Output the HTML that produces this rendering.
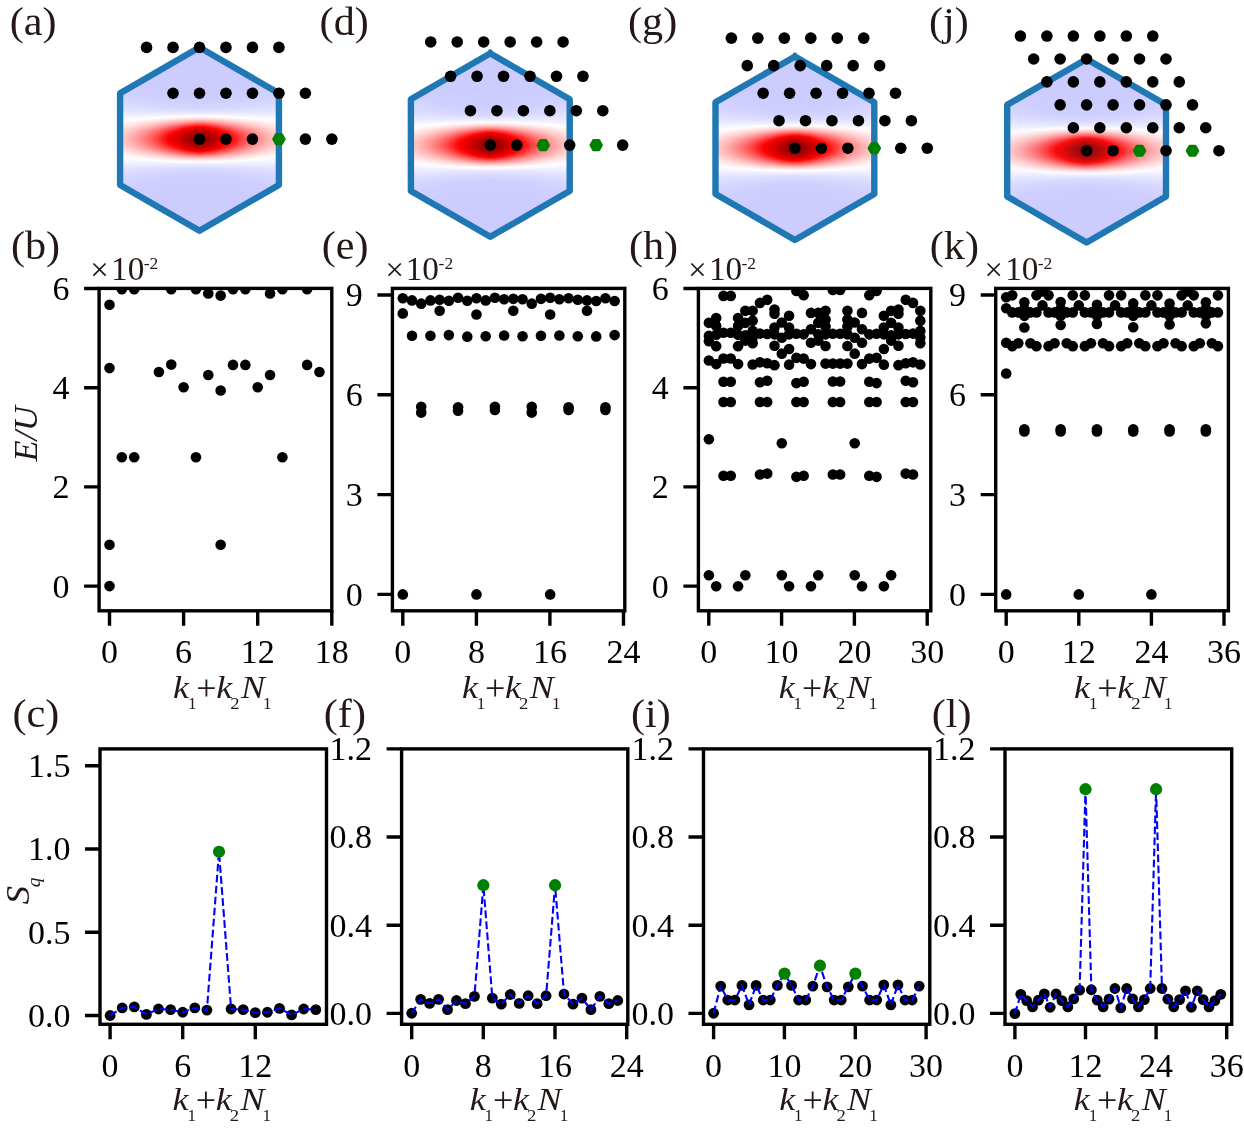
<!DOCTYPE html>
<html><head><meta charset="utf-8"><title>figure</title>
<style>html,body{margin:0;padding:0;background:#fff}svg{display:block;will-change:transform}text{font-family:"Liberation Serif", serif}</style>
</head><body>
<svg width="1244" height="1132" viewBox="0 0 1244 1132">
<defs><linearGradient id="g0" gradientUnits="userSpaceOnUse" x1="0" y1="0" x2="82" y2="0" spreadMethod="reflect"><stop offset="0" stop-color="#830000"/><stop offset="0.02" stop-color="#850000"/><stop offset="0.05" stop-color="#8b0000"/><stop offset="0.07" stop-color="#920000"/><stop offset="0.11" stop-color="#9f0000"/><stop offset="0.15" stop-color="#ad0000"/><stop offset="0.2" stop-color="#c00000"/><stop offset="0.24" stop-color="#d10000"/><stop offset="0.3" stop-color="#e60000"/><stop offset="0.37" stop-color="#f80000"/><stop offset="0.44" stop-color="#ff1b1b"/><stop offset="0.51" stop-color="#ff3f3f"/><stop offset="0.61" stop-color="#ff6767"/><stop offset="0.71" stop-color="#ff8a8a"/><stop offset="0.8" stop-color="#ffa7a7"/><stop offset="0.9" stop-color="#ffc0c0"/><stop offset="1" stop-color="#ffd4d4"/></linearGradient>
<linearGradient id="g1" gradientUnits="userSpaceOnUse" x1="0" y1="0" x2="82" y2="0" spreadMethod="reflect"><stop offset="0" stop-color="#850000"/><stop offset="0.02" stop-color="#870000"/><stop offset="0.05" stop-color="#8c0000"/><stop offset="0.07" stop-color="#940000"/><stop offset="0.11" stop-color="#a10000"/><stop offset="0.15" stop-color="#af0000"/><stop offset="0.2" stop-color="#c10000"/><stop offset="0.24" stop-color="#d30000"/><stop offset="0.3" stop-color="#e70000"/><stop offset="0.37" stop-color="#f90000"/><stop offset="0.44" stop-color="#ff1d1d"/><stop offset="0.51" stop-color="#ff4040"/><stop offset="0.61" stop-color="#ff6969"/><stop offset="0.71" stop-color="#ff8b8b"/><stop offset="0.8" stop-color="#ffa8a8"/><stop offset="0.9" stop-color="#ffc0c0"/><stop offset="1" stop-color="#ffd5d5"/></linearGradient>
<linearGradient id="g2" gradientUnits="userSpaceOnUse" x1="0" y1="0" x2="82" y2="0" spreadMethod="reflect"><stop offset="0" stop-color="#880000"/><stop offset="0.02" stop-color="#8a0000"/><stop offset="0.05" stop-color="#8f0000"/><stop offset="0.07" stop-color="#960000"/><stop offset="0.11" stop-color="#a30000"/><stop offset="0.15" stop-color="#b10000"/><stop offset="0.2" stop-color="#c30000"/><stop offset="0.24" stop-color="#d50000"/><stop offset="0.3" stop-color="#e90000"/><stop offset="0.37" stop-color="#fb0000"/><stop offset="0.44" stop-color="#ff2020"/><stop offset="0.51" stop-color="#ff4343"/><stop offset="0.61" stop-color="#ff6b6b"/><stop offset="0.71" stop-color="#ff8d8d"/><stop offset="0.8" stop-color="#ffa9a9"/><stop offset="0.9" stop-color="#ffc1c1"/><stop offset="1" stop-color="#ffd6d6"/></linearGradient>
<linearGradient id="g3" gradientUnits="userSpaceOnUse" x1="0" y1="0" x2="82" y2="0" spreadMethod="reflect"><stop offset="0" stop-color="#8d0000"/><stop offset="0.02" stop-color="#8f0000"/><stop offset="0.05" stop-color="#940000"/><stop offset="0.07" stop-color="#9b0000"/><stop offset="0.11" stop-color="#a80000"/><stop offset="0.15" stop-color="#b50000"/><stop offset="0.2" stop-color="#c70000"/><stop offset="0.24" stop-color="#d80000"/><stop offset="0.3" stop-color="#ec0000"/><stop offset="0.37" stop-color="#fe0000"/><stop offset="0.44" stop-color="#ff2525"/><stop offset="0.51" stop-color="#ff4747"/><stop offset="0.61" stop-color="#ff6f6f"/><stop offset="0.71" stop-color="#ff9090"/><stop offset="0.8" stop-color="#ffacac"/><stop offset="0.9" stop-color="#ffc3c3"/><stop offset="1" stop-color="#ffd7d7"/></linearGradient>
<linearGradient id="g4" gradientUnits="userSpaceOnUse" x1="0" y1="0" x2="82" y2="0" spreadMethod="reflect"><stop offset="0" stop-color="#930000"/><stop offset="0.02" stop-color="#950000"/><stop offset="0.05" stop-color="#9a0000"/><stop offset="0.07" stop-color="#a10000"/><stop offset="0.11" stop-color="#ad0000"/><stop offset="0.15" stop-color="#ba0000"/><stop offset="0.2" stop-color="#cc0000"/><stop offset="0.24" stop-color="#dc0000"/><stop offset="0.3" stop-color="#f00000"/><stop offset="0.37" stop-color="#ff0505"/><stop offset="0.44" stop-color="#ff2b2b"/><stop offset="0.51" stop-color="#ff4d4d"/><stop offset="0.61" stop-color="#ff7373"/><stop offset="0.71" stop-color="#ff9393"/><stop offset="0.8" stop-color="#ffaeae"/><stop offset="0.9" stop-color="#ffc5c5"/><stop offset="1" stop-color="#ffd8d8"/></linearGradient>
<linearGradient id="g5" gradientUnits="userSpaceOnUse" x1="0" y1="0" x2="82" y2="0" spreadMethod="reflect"><stop offset="0" stop-color="#9b0000"/><stop offset="0.02" stop-color="#9d0000"/><stop offset="0.05" stop-color="#a10000"/><stop offset="0.07" stop-color="#a80000"/><stop offset="0.11" stop-color="#b40000"/><stop offset="0.15" stop-color="#c10000"/><stop offset="0.2" stop-color="#d20000"/><stop offset="0.24" stop-color="#e20000"/><stop offset="0.3" stop-color="#f50000"/><stop offset="0.37" stop-color="#ff0e0e"/><stop offset="0.44" stop-color="#ff3333"/><stop offset="0.51" stop-color="#ff5353"/><stop offset="0.61" stop-color="#ff7979"/><stop offset="0.71" stop-color="#ff9898"/><stop offset="0.8" stop-color="#ffb2b2"/><stop offset="0.9" stop-color="#ffc8c8"/><stop offset="1" stop-color="#ffdada"/></linearGradient>
<linearGradient id="g6" gradientUnits="userSpaceOnUse" x1="0" y1="0" x2="82" y2="0" spreadMethod="reflect"><stop offset="0" stop-color="#a50000"/><stop offset="0.02" stop-color="#a60000"/><stop offset="0.05" stop-color="#ab0000"/><stop offset="0.07" stop-color="#b10000"/><stop offset="0.11" stop-color="#bd0000"/><stop offset="0.15" stop-color="#c90000"/><stop offset="0.2" stop-color="#d90000"/><stop offset="0.24" stop-color="#e80000"/><stop offset="0.3" stop-color="#fb0000"/><stop offset="0.37" stop-color="#ff1818"/><stop offset="0.44" stop-color="#ff3c3c"/><stop offset="0.51" stop-color="#ff5b5b"/><stop offset="0.61" stop-color="#ff7f7f"/><stop offset="0.71" stop-color="#ff9d9d"/><stop offset="0.8" stop-color="#ffb6b6"/><stop offset="0.9" stop-color="#ffcbcb"/><stop offset="1" stop-color="#ffdcdc"/></linearGradient>
<linearGradient id="g7" gradientUnits="userSpaceOnUse" x1="0" y1="0" x2="82" y2="0" spreadMethod="reflect"><stop offset="0" stop-color="#b00000"/><stop offset="0.02" stop-color="#b10000"/><stop offset="0.05" stop-color="#b60000"/><stop offset="0.07" stop-color="#bc0000"/><stop offset="0.11" stop-color="#c60000"/><stop offset="0.15" stop-color="#d20000"/><stop offset="0.2" stop-color="#e10000"/><stop offset="0.24" stop-color="#f00000"/><stop offset="0.3" stop-color="#ff0404"/><stop offset="0.37" stop-color="#ff2424"/><stop offset="0.44" stop-color="#ff4646"/><stop offset="0.51" stop-color="#ff6464"/><stop offset="0.61" stop-color="#ff8787"/><stop offset="0.71" stop-color="#ffa3a3"/><stop offset="0.8" stop-color="#ffbaba"/><stop offset="0.9" stop-color="#ffcece"/><stop offset="1" stop-color="#ffdede"/></linearGradient>
<linearGradient id="g8" gradientUnits="userSpaceOnUse" x1="0" y1="0" x2="82" y2="0" spreadMethod="reflect"><stop offset="0" stop-color="#bd0000"/><stop offset="0.02" stop-color="#be0000"/><stop offset="0.05" stop-color="#c20000"/><stop offset="0.07" stop-color="#c80000"/><stop offset="0.11" stop-color="#d20000"/><stop offset="0.15" stop-color="#dc0000"/><stop offset="0.2" stop-color="#eb0000"/><stop offset="0.24" stop-color="#f80000"/><stop offset="0.3" stop-color="#ff1414"/><stop offset="0.37" stop-color="#ff3232"/><stop offset="0.44" stop-color="#ff5252"/><stop offset="0.51" stop-color="#ff6e6e"/><stop offset="0.61" stop-color="#ff8f8f"/><stop offset="0.71" stop-color="#ffa9a9"/><stop offset="0.8" stop-color="#ffbfbf"/><stop offset="0.9" stop-color="#ffd2d2"/><stop offset="1" stop-color="#ffe1e1"/></linearGradient>
<linearGradient id="g9" gradientUnits="userSpaceOnUse" x1="0" y1="0" x2="82" y2="0" spreadMethod="reflect"><stop offset="0" stop-color="#cb0000"/><stop offset="0.02" stop-color="#cc0000"/><stop offset="0.05" stop-color="#d00000"/><stop offset="0.07" stop-color="#d50000"/><stop offset="0.11" stop-color="#de0000"/><stop offset="0.15" stop-color="#e80000"/><stop offset="0.2" stop-color="#f50000"/><stop offset="0.24" stop-color="#ff0606"/><stop offset="0.3" stop-color="#ff2424"/><stop offset="0.37" stop-color="#ff4040"/><stop offset="0.44" stop-color="#ff5f5f"/><stop offset="0.51" stop-color="#ff7979"/><stop offset="0.61" stop-color="#ff9797"/><stop offset="0.71" stop-color="#ffb0b0"/><stop offset="0.8" stop-color="#ffc5c5"/><stop offset="0.9" stop-color="#ffd6d6"/><stop offset="1" stop-color="#ffe4e4"/></linearGradient>
<linearGradient id="g10" gradientUnits="userSpaceOnUse" x1="0" y1="0" x2="82" y2="0" spreadMethod="reflect"><stop offset="0" stop-color="#da0000"/><stop offset="0.02" stop-color="#db0000"/><stop offset="0.05" stop-color="#de0000"/><stop offset="0.07" stop-color="#e30000"/><stop offset="0.11" stop-color="#eb0000"/><stop offset="0.15" stop-color="#f40000"/><stop offset="0.2" stop-color="#ff0202"/><stop offset="0.24" stop-color="#ff1a1a"/><stop offset="0.3" stop-color="#ff3636"/><stop offset="0.37" stop-color="#ff5050"/><stop offset="0.44" stop-color="#ff6c6c"/><stop offset="0.51" stop-color="#ff8585"/><stop offset="0.61" stop-color="#ffa1a1"/><stop offset="0.71" stop-color="#ffb8b8"/><stop offset="0.8" stop-color="#ffcaca"/><stop offset="0.9" stop-color="#ffdada"/><stop offset="1" stop-color="#ffe7e7"/></linearGradient>
<linearGradient id="g11" gradientUnits="userSpaceOnUse" x1="0" y1="0" x2="82" y2="0" spreadMethod="reflect"><stop offset="0" stop-color="#ea0000"/><stop offset="0.02" stop-color="#eb0000"/><stop offset="0.05" stop-color="#ee0000"/><stop offset="0.07" stop-color="#f20000"/><stop offset="0.11" stop-color="#f90000"/><stop offset="0.15" stop-color="#ff0404"/><stop offset="0.2" stop-color="#ff1a1a"/><stop offset="0.24" stop-color="#ff2f2f"/><stop offset="0.3" stop-color="#ff4949"/><stop offset="0.37" stop-color="#ff6060"/><stop offset="0.44" stop-color="#ff7a7a"/><stop offset="0.51" stop-color="#ff9191"/><stop offset="0.61" stop-color="#ffaaaa"/><stop offset="0.71" stop-color="#ffbfbf"/><stop offset="0.8" stop-color="#ffd0d0"/><stop offset="0.9" stop-color="#ffdede"/><stop offset="1" stop-color="#ffeaea"/></linearGradient>
<linearGradient id="g12" gradientUnits="userSpaceOnUse" x1="0" y1="0" x2="82" y2="0" spreadMethod="reflect"><stop offset="0" stop-color="#fb0000"/><stop offset="0.02" stop-color="#fc0000"/><stop offset="0.05" stop-color="#fe0000"/><stop offset="0.07" stop-color="#ff0505"/><stop offset="0.11" stop-color="#ff1212"/><stop offset="0.15" stop-color="#ff2020"/><stop offset="0.2" stop-color="#ff3333"/><stop offset="0.24" stop-color="#ff4646"/><stop offset="0.3" stop-color="#ff5c5c"/><stop offset="0.37" stop-color="#ff7171"/><stop offset="0.44" stop-color="#ff8888"/><stop offset="0.51" stop-color="#ff9d9d"/><stop offset="0.61" stop-color="#ffb4b4"/><stop offset="0.71" stop-color="#ffc7c7"/><stop offset="0.8" stop-color="#ffd6d6"/><stop offset="0.9" stop-color="#ffe3e3"/><stop offset="1" stop-color="#ffeded"/></linearGradient>
<linearGradient id="g13" gradientUnits="userSpaceOnUse" x1="0" y1="0" x2="82" y2="0" spreadMethod="reflect"><stop offset="0" stop-color="#ff1919"/><stop offset="0.02" stop-color="#ff1b1b"/><stop offset="0.05" stop-color="#ff1f1f"/><stop offset="0.07" stop-color="#ff2525"/><stop offset="0.11" stop-color="#ff2f2f"/><stop offset="0.15" stop-color="#ff3b3b"/><stop offset="0.2" stop-color="#ff4c4c"/><stop offset="0.24" stop-color="#ff5c5c"/><stop offset="0.3" stop-color="#ff7070"/><stop offset="0.37" stop-color="#ff8282"/><stop offset="0.44" stop-color="#ff9797"/><stop offset="0.51" stop-color="#ffa9a9"/><stop offset="0.61" stop-color="#ffbebe"/><stop offset="0.71" stop-color="#ffcece"/><stop offset="0.8" stop-color="#ffdcdc"/><stop offset="0.9" stop-color="#ffe7e7"/><stop offset="1" stop-color="#fff1f1"/></linearGradient>
<linearGradient id="g14" gradientUnits="userSpaceOnUse" x1="0" y1="0" x2="82" y2="0" spreadMethod="reflect"><stop offset="0" stop-color="#ff3a3a"/><stop offset="0.02" stop-color="#ff3b3b"/><stop offset="0.05" stop-color="#ff3f3f"/><stop offset="0.07" stop-color="#ff4444"/><stop offset="0.11" stop-color="#ff4d4d"/><stop offset="0.15" stop-color="#ff5656"/><stop offset="0.2" stop-color="#ff6464"/><stop offset="0.24" stop-color="#ff7272"/><stop offset="0.3" stop-color="#ff8383"/><stop offset="0.37" stop-color="#ff9494"/><stop offset="0.44" stop-color="#ffa5a5"/><stop offset="0.51" stop-color="#ffb5b5"/><stop offset="0.61" stop-color="#ffc7c7"/><stop offset="0.71" stop-color="#ffd6d6"/><stop offset="0.8" stop-color="#ffe2e2"/><stop offset="0.9" stop-color="#ffecec"/><stop offset="1" stop-color="#fff4f4"/></linearGradient>
<linearGradient id="g15" gradientUnits="userSpaceOnUse" x1="0" y1="0" x2="82" y2="0" spreadMethod="reflect"><stop offset="0" stop-color="#ff5a5a"/><stop offset="0.02" stop-color="#ff5b5b"/><stop offset="0.05" stop-color="#ff5e5e"/><stop offset="0.07" stop-color="#ff6262"/><stop offset="0.11" stop-color="#ff6969"/><stop offset="0.15" stop-color="#ff7171"/><stop offset="0.2" stop-color="#ff7d7d"/><stop offset="0.24" stop-color="#ff8888"/><stop offset="0.3" stop-color="#ff9797"/><stop offset="0.37" stop-color="#ffa4a4"/><stop offset="0.44" stop-color="#ffb4b4"/><stop offset="0.51" stop-color="#ffc1c1"/><stop offset="0.61" stop-color="#ffd1d1"/><stop offset="0.71" stop-color="#ffdede"/><stop offset="0.8" stop-color="#ffe8e8"/><stop offset="0.9" stop-color="#fff1f1"/><stop offset="1" stop-color="#fff8f8"/></linearGradient>
<linearGradient id="g16" gradientUnits="userSpaceOnUse" x1="0" y1="0" x2="82" y2="0" spreadMethod="reflect"><stop offset="0" stop-color="#ff7878"/><stop offset="0.02" stop-color="#ff7979"/><stop offset="0.05" stop-color="#ff7b7b"/><stop offset="0.07" stop-color="#ff7e7e"/><stop offset="0.11" stop-color="#ff8484"/><stop offset="0.15" stop-color="#ff8a8a"/><stop offset="0.2" stop-color="#ff9494"/><stop offset="0.24" stop-color="#ff9d9d"/><stop offset="0.3" stop-color="#ffa9a9"/><stop offset="0.37" stop-color="#ffb4b4"/><stop offset="0.44" stop-color="#ffc1c1"/><stop offset="0.51" stop-color="#ffcdcd"/><stop offset="0.61" stop-color="#ffdada"/><stop offset="0.71" stop-color="#ffe5e5"/><stop offset="0.8" stop-color="#ffeeee"/><stop offset="0.9" stop-color="#fff5f5"/><stop offset="1" stop-color="#fffbfb"/></linearGradient>
<linearGradient id="g17" gradientUnits="userSpaceOnUse" x1="0" y1="0" x2="82" y2="0" spreadMethod="reflect"><stop offset="0" stop-color="#ff9494"/><stop offset="0.02" stop-color="#ff9595"/><stop offset="0.05" stop-color="#ff9696"/><stop offset="0.07" stop-color="#ff9999"/><stop offset="0.11" stop-color="#ff9d9d"/><stop offset="0.15" stop-color="#ffa2a2"/><stop offset="0.2" stop-color="#ffa9a9"/><stop offset="0.24" stop-color="#ffb1b1"/><stop offset="0.3" stop-color="#ffbaba"/><stop offset="0.37" stop-color="#ffc4c4"/><stop offset="0.44" stop-color="#ffcece"/><stop offset="0.51" stop-color="#ffd8d8"/><stop offset="0.61" stop-color="#ffe3e3"/><stop offset="0.71" stop-color="#ffecec"/><stop offset="0.8" stop-color="#fff4f4"/><stop offset="0.9" stop-color="#fffafa"/><stop offset="1" stop-color="#ffffff"/></linearGradient>
<linearGradient id="g18" gradientUnits="userSpaceOnUse" x1="0" y1="0" x2="82" y2="0" spreadMethod="reflect"><stop offset="0" stop-color="#ffadad"/><stop offset="0.02" stop-color="#ffaeae"/><stop offset="0.05" stop-color="#ffafaf"/><stop offset="0.07" stop-color="#ffb1b1"/><stop offset="0.11" stop-color="#ffb4b4"/><stop offset="0.15" stop-color="#ffb8b8"/><stop offset="0.2" stop-color="#ffbdbd"/><stop offset="0.24" stop-color="#ffc3c3"/><stop offset="0.3" stop-color="#ffcbcb"/><stop offset="0.37" stop-color="#ffd2d2"/><stop offset="0.44" stop-color="#ffdbdb"/><stop offset="0.51" stop-color="#ffe3e3"/><stop offset="0.61" stop-color="#ffecec"/><stop offset="0.71" stop-color="#fff3f3"/><stop offset="0.8" stop-color="#fffafa"/><stop offset="0.9" stop-color="#fffefe"/><stop offset="1" stop-color="#fdfdff"/></linearGradient>
<linearGradient id="g19" gradientUnits="userSpaceOnUse" x1="0" y1="0" x2="82" y2="0" spreadMethod="reflect"><stop offset="0" stop-color="#ffc4c4"/><stop offset="0.02" stop-color="#ffc4c4"/><stop offset="0.05" stop-color="#ffc5c5"/><stop offset="0.07" stop-color="#ffc6c6"/><stop offset="0.11" stop-color="#ffc9c9"/><stop offset="0.15" stop-color="#ffcccc"/><stop offset="0.2" stop-color="#ffd0d0"/><stop offset="0.24" stop-color="#ffd4d4"/><stop offset="0.3" stop-color="#ffdada"/><stop offset="0.37" stop-color="#ffe0e0"/><stop offset="0.44" stop-color="#ffe6e6"/><stop offset="0.51" stop-color="#ffeded"/><stop offset="0.61" stop-color="#fff4f4"/><stop offset="0.71" stop-color="#fffafa"/><stop offset="0.8" stop-color="#ffffff"/><stop offset="0.9" stop-color="#fcfcff"/><stop offset="1" stop-color="#fafaff"/></linearGradient>
<linearGradient id="g20" gradientUnits="userSpaceOnUse" x1="0" y1="0" x2="82" y2="0" spreadMethod="reflect"><stop offset="0" stop-color="#ffd8d8"/><stop offset="0.02" stop-color="#ffd8d8"/><stop offset="0.05" stop-color="#ffd9d9"/><stop offset="0.07" stop-color="#ffdada"/><stop offset="0.11" stop-color="#ffdbdb"/><stop offset="0.15" stop-color="#ffdddd"/><stop offset="0.2" stop-color="#ffe0e0"/><stop offset="0.24" stop-color="#ffe3e3"/><stop offset="0.3" stop-color="#ffe8e8"/><stop offset="0.37" stop-color="#ffecec"/><stop offset="0.44" stop-color="#fff1f1"/><stop offset="0.51" stop-color="#fff6f6"/><stop offset="0.61" stop-color="#fffbfb"/><stop offset="0.71" stop-color="#fefeff"/><stop offset="0.8" stop-color="#fbfbff"/><stop offset="0.9" stop-color="#f9f9ff"/><stop offset="1" stop-color="#f8f8ff"/></linearGradient>
<linearGradient id="g21" gradientUnits="userSpaceOnUse" x1="0" y1="0" x2="82" y2="0" spreadMethod="reflect"><stop offset="0" stop-color="#ffe9e9"/><stop offset="0.02" stop-color="#ffeaea"/><stop offset="0.05" stop-color="#ffeaea"/><stop offset="0.07" stop-color="#ffeaea"/><stop offset="0.11" stop-color="#ffebeb"/><stop offset="0.15" stop-color="#ffeded"/><stop offset="0.2" stop-color="#ffefef"/><stop offset="0.24" stop-color="#fff1f1"/><stop offset="0.3" stop-color="#fff4f4"/><stop offset="0.37" stop-color="#fff7f7"/><stop offset="0.44" stop-color="#fffbfb"/><stop offset="0.51" stop-color="#fffefe"/><stop offset="0.61" stop-color="#fcfcff"/><stop offset="0.71" stop-color="#fafaff"/><stop offset="0.8" stop-color="#f8f8ff"/><stop offset="0.9" stop-color="#f6f6ff"/><stop offset="1" stop-color="#f5f5ff"/></linearGradient>
<linearGradient id="g22" gradientUnits="userSpaceOnUse" x1="0" y1="0" x2="82" y2="0" spreadMethod="reflect"><stop offset="0" stop-color="#fff8f8"/><stop offset="0.02" stop-color="#fff8f8"/><stop offset="0.05" stop-color="#fff9f9"/><stop offset="0.07" stop-color="#fff9f9"/><stop offset="0.11" stop-color="#fffafa"/><stop offset="0.15" stop-color="#fffafa"/><stop offset="0.2" stop-color="#fffcfc"/><stop offset="0.24" stop-color="#fffdfd"/><stop offset="0.3" stop-color="#ffffff"/><stop offset="0.37" stop-color="#fdfdff"/><stop offset="0.44" stop-color="#fcfcff"/><stop offset="0.51" stop-color="#fafaff"/><stop offset="0.61" stop-color="#f8f8ff"/><stop offset="0.71" stop-color="#f6f6ff"/><stop offset="0.8" stop-color="#f4f4ff"/><stop offset="0.9" stop-color="#f3f3ff"/><stop offset="1" stop-color="#f3f3ff"/></linearGradient>
<linearGradient id="g23" gradientUnits="userSpaceOnUse" x1="0" y1="0" x2="82" y2="0" spreadMethod="reflect"><stop offset="0" stop-color="#fafaff"/><stop offset="0.02" stop-color="#fafaff"/><stop offset="0.05" stop-color="#fafaff"/><stop offset="0.07" stop-color="#fafaff"/><stop offset="0.11" stop-color="#fafaff"/><stop offset="0.15" stop-color="#fafaff"/><stop offset="0.2" stop-color="#f9f9ff"/><stop offset="0.24" stop-color="#f9f9ff"/><stop offset="0.3" stop-color="#f8f8ff"/><stop offset="0.37" stop-color="#f7f7ff"/><stop offset="0.44" stop-color="#f6f6ff"/><stop offset="0.51" stop-color="#f4f4ff"/><stop offset="0.61" stop-color="#f3f3ff"/><stop offset="0.71" stop-color="#f2f2ff"/><stop offset="0.8" stop-color="#f1f1ff"/><stop offset="0.9" stop-color="#f0f0ff"/><stop offset="1" stop-color="#f1f1ff"/></linearGradient>
<linearGradient id="g24" gradientUnits="userSpaceOnUse" x1="0" y1="0" x2="82" y2="0" spreadMethod="reflect"><stop offset="0" stop-color="#f2f2ff"/><stop offset="0.02" stop-color="#f2f2ff"/><stop offset="0.05" stop-color="#f2f2ff"/><stop offset="0.07" stop-color="#f2f2ff"/><stop offset="0.11" stop-color="#f2f2ff"/><stop offset="0.15" stop-color="#f2f2ff"/><stop offset="0.2" stop-color="#f2f2ff"/><stop offset="0.24" stop-color="#f2f2ff"/><stop offset="0.3" stop-color="#f1f1ff"/><stop offset="0.37" stop-color="#f1f1ff"/><stop offset="0.44" stop-color="#f0f0ff"/><stop offset="0.51" stop-color="#f0f0ff"/><stop offset="0.61" stop-color="#efefff"/><stop offset="0.71" stop-color="#eeeeff"/><stop offset="0.8" stop-color="#eeeeff"/><stop offset="0.9" stop-color="#eeeeff"/><stop offset="1" stop-color="#eeeeff"/></linearGradient>
<linearGradient id="g25" gradientUnits="userSpaceOnUse" x1="0" y1="0" x2="82" y2="0" spreadMethod="reflect"><stop offset="0" stop-color="#ececff"/><stop offset="0.02" stop-color="#ececff"/><stop offset="0.05" stop-color="#ececff"/><stop offset="0.07" stop-color="#ececff"/><stop offset="0.11" stop-color="#ececff"/><stop offset="0.15" stop-color="#ececff"/><stop offset="0.2" stop-color="#ececff"/><stop offset="0.24" stop-color="#ececff"/><stop offset="0.3" stop-color="#ececff"/><stop offset="0.37" stop-color="#ececff"/><stop offset="0.44" stop-color="#ebebff"/><stop offset="0.51" stop-color="#ebebff"/><stop offset="0.61" stop-color="#ebebff"/><stop offset="0.71" stop-color="#ebebff"/><stop offset="0.8" stop-color="#ebebff"/><stop offset="0.9" stop-color="#ebebff"/><stop offset="1" stop-color="#ececff"/></linearGradient>
<linearGradient id="g26" gradientUnits="userSpaceOnUse" x1="0" y1="0" x2="82" y2="0" spreadMethod="reflect"><stop offset="0" stop-color="#e6e6ff"/><stop offset="0.02" stop-color="#e6e6ff"/><stop offset="0.05" stop-color="#e6e6ff"/><stop offset="0.07" stop-color="#e6e6ff"/><stop offset="0.11" stop-color="#e6e6ff"/><stop offset="0.15" stop-color="#e7e7ff"/><stop offset="0.2" stop-color="#e7e7ff"/><stop offset="0.24" stop-color="#e7e7ff"/><stop offset="0.3" stop-color="#e7e7ff"/><stop offset="0.37" stop-color="#e7e7ff"/><stop offset="0.44" stop-color="#e7e7ff"/><stop offset="0.51" stop-color="#e7e7ff"/><stop offset="0.61" stop-color="#e8e8ff"/><stop offset="0.71" stop-color="#e8e8ff"/><stop offset="0.8" stop-color="#e8e8ff"/><stop offset="0.9" stop-color="#e9e9ff"/><stop offset="1" stop-color="#eaeaff"/></linearGradient>
<linearGradient id="g27" gradientUnits="userSpaceOnUse" x1="0" y1="0" x2="82" y2="0" spreadMethod="reflect"><stop offset="0" stop-color="#e1e1ff"/><stop offset="0.02" stop-color="#e1e1ff"/><stop offset="0.05" stop-color="#e1e1ff"/><stop offset="0.07" stop-color="#e2e2ff"/><stop offset="0.11" stop-color="#e2e2ff"/><stop offset="0.15" stop-color="#e2e2ff"/><stop offset="0.2" stop-color="#e2e2ff"/><stop offset="0.24" stop-color="#e3e3ff"/><stop offset="0.3" stop-color="#e3e3ff"/><stop offset="0.37" stop-color="#e3e3ff"/><stop offset="0.44" stop-color="#e4e4ff"/><stop offset="0.51" stop-color="#e4e4ff"/><stop offset="0.61" stop-color="#e5e5ff"/><stop offset="0.71" stop-color="#e5e5ff"/><stop offset="0.8" stop-color="#e6e6ff"/><stop offset="0.9" stop-color="#e7e7ff"/><stop offset="1" stop-color="#e8e8ff"/></linearGradient>
<linearGradient id="g28" gradientUnits="userSpaceOnUse" x1="0" y1="0" x2="82" y2="0" spreadMethod="reflect"><stop offset="0" stop-color="#ddddff"/><stop offset="0.02" stop-color="#dedeff"/><stop offset="0.05" stop-color="#dedeff"/><stop offset="0.07" stop-color="#dedeff"/><stop offset="0.11" stop-color="#dedeff"/><stop offset="0.15" stop-color="#dedeff"/><stop offset="0.2" stop-color="#dfdfff"/><stop offset="0.24" stop-color="#dfdfff"/><stop offset="0.3" stop-color="#dfdfff"/><stop offset="0.37" stop-color="#e0e0ff"/><stop offset="0.44" stop-color="#e0e0ff"/><stop offset="0.51" stop-color="#e1e1ff"/><stop offset="0.61" stop-color="#e2e2ff"/><stop offset="0.71" stop-color="#e3e3ff"/><stop offset="0.8" stop-color="#e3e3ff"/><stop offset="0.9" stop-color="#e5e5ff"/><stop offset="1" stop-color="#e6e6ff"/></linearGradient>
<linearGradient id="g29" gradientUnits="userSpaceOnUse" x1="0" y1="0" x2="82" y2="0" spreadMethod="reflect"><stop offset="0" stop-color="#dadaff"/><stop offset="0.02" stop-color="#dadaff"/><stop offset="0.05" stop-color="#dadaff"/><stop offset="0.07" stop-color="#dbdbff"/><stop offset="0.11" stop-color="#dbdbff"/><stop offset="0.15" stop-color="#dbdbff"/><stop offset="0.2" stop-color="#dbdbff"/><stop offset="0.24" stop-color="#dcdcff"/><stop offset="0.3" stop-color="#dcdcff"/><stop offset="0.37" stop-color="#ddddff"/><stop offset="0.44" stop-color="#dedeff"/><stop offset="0.51" stop-color="#dedeff"/><stop offset="0.61" stop-color="#dfdfff"/><stop offset="0.71" stop-color="#e0e0ff"/><stop offset="0.8" stop-color="#e1e1ff"/><stop offset="0.9" stop-color="#e3e3ff"/><stop offset="1" stop-color="#e5e5ff"/></linearGradient>
<linearGradient id="g30" gradientUnits="userSpaceOnUse" x1="0" y1="0" x2="82" y2="0" spreadMethod="reflect"><stop offset="0" stop-color="#d8d8ff"/><stop offset="0.02" stop-color="#d8d8ff"/><stop offset="0.05" stop-color="#d8d8ff"/><stop offset="0.07" stop-color="#d8d8ff"/><stop offset="0.11" stop-color="#d8d8ff"/><stop offset="0.15" stop-color="#d8d8ff"/><stop offset="0.2" stop-color="#d9d9ff"/><stop offset="0.24" stop-color="#d9d9ff"/><stop offset="0.3" stop-color="#dadaff"/><stop offset="0.37" stop-color="#dadaff"/><stop offset="0.44" stop-color="#dbdbff"/><stop offset="0.51" stop-color="#dcdcff"/><stop offset="0.61" stop-color="#ddddff"/><stop offset="0.71" stop-color="#dedeff"/><stop offset="0.8" stop-color="#dfdfff"/><stop offset="0.9" stop-color="#e1e1ff"/><stop offset="1" stop-color="#e3e3ff"/></linearGradient>
<linearGradient id="g31" gradientUnits="userSpaceOnUse" x1="0" y1="0" x2="82" y2="0" spreadMethod="reflect"><stop offset="0" stop-color="#d6d6ff"/><stop offset="0.02" stop-color="#d6d6ff"/><stop offset="0.05" stop-color="#d6d6ff"/><stop offset="0.07" stop-color="#d6d6ff"/><stop offset="0.11" stop-color="#d6d6ff"/><stop offset="0.15" stop-color="#d6d6ff"/><stop offset="0.2" stop-color="#d7d7ff"/><stop offset="0.24" stop-color="#d7d7ff"/><stop offset="0.3" stop-color="#d8d8ff"/><stop offset="0.37" stop-color="#d8d8ff"/><stop offset="0.44" stop-color="#d9d9ff"/><stop offset="0.51" stop-color="#dadaff"/><stop offset="0.61" stop-color="#dbdbff"/><stop offset="0.71" stop-color="#dcdcff"/><stop offset="0.8" stop-color="#dedeff"/><stop offset="0.9" stop-color="#dfdfff"/><stop offset="1" stop-color="#e1e1ff"/></linearGradient>
<linearGradient id="g32" gradientUnits="userSpaceOnUse" x1="0" y1="0" x2="82" y2="0" spreadMethod="reflect"><stop offset="0" stop-color="#d4d4ff"/><stop offset="0.02" stop-color="#d4d4ff"/><stop offset="0.05" stop-color="#d4d4ff"/><stop offset="0.07" stop-color="#d4d4ff"/><stop offset="0.11" stop-color="#d4d4ff"/><stop offset="0.15" stop-color="#d4d4ff"/><stop offset="0.2" stop-color="#d5d5ff"/><stop offset="0.24" stop-color="#d5d5ff"/><stop offset="0.3" stop-color="#d6d6ff"/><stop offset="0.37" stop-color="#d6d6ff"/><stop offset="0.44" stop-color="#d7d7ff"/><stop offset="0.51" stop-color="#d8d8ff"/><stop offset="0.61" stop-color="#d9d9ff"/><stop offset="0.71" stop-color="#dbdbff"/><stop offset="0.8" stop-color="#dcdcff"/><stop offset="0.9" stop-color="#dedeff"/><stop offset="1" stop-color="#e0e0ff"/></linearGradient>
<linearGradient id="g33" gradientUnits="userSpaceOnUse" x1="0" y1="0" x2="82" y2="0" spreadMethod="reflect"><stop offset="0" stop-color="#d2d2ff"/><stop offset="0.02" stop-color="#d2d2ff"/><stop offset="0.05" stop-color="#d2d2ff"/><stop offset="0.07" stop-color="#d3d3ff"/><stop offset="0.11" stop-color="#d3d3ff"/><stop offset="0.15" stop-color="#d3d3ff"/><stop offset="0.2" stop-color="#d3d3ff"/><stop offset="0.24" stop-color="#d4d4ff"/><stop offset="0.3" stop-color="#d4d4ff"/><stop offset="0.37" stop-color="#d5d5ff"/><stop offset="0.44" stop-color="#d6d6ff"/><stop offset="0.51" stop-color="#d6d6ff"/><stop offset="0.61" stop-color="#d8d8ff"/><stop offset="0.71" stop-color="#d9d9ff"/><stop offset="0.8" stop-color="#dadaff"/><stop offset="0.9" stop-color="#dcdcff"/><stop offset="1" stop-color="#dedeff"/></linearGradient>
<linearGradient id="g34" gradientUnits="userSpaceOnUse" x1="0" y1="0" x2="82" y2="0" spreadMethod="reflect"><stop offset="0" stop-color="#d1d1ff"/><stop offset="0.02" stop-color="#d1d1ff"/><stop offset="0.05" stop-color="#d1d1ff"/><stop offset="0.07" stop-color="#d1d1ff"/><stop offset="0.11" stop-color="#d2d2ff"/><stop offset="0.15" stop-color="#d2d2ff"/><stop offset="0.2" stop-color="#d2d2ff"/><stop offset="0.24" stop-color="#d2d2ff"/><stop offset="0.3" stop-color="#d3d3ff"/><stop offset="0.37" stop-color="#d3d3ff"/><stop offset="0.44" stop-color="#d4d4ff"/><stop offset="0.51" stop-color="#d5d5ff"/><stop offset="0.61" stop-color="#d6d6ff"/><stop offset="0.71" stop-color="#d8d8ff"/><stop offset="0.8" stop-color="#d9d9ff"/><stop offset="0.9" stop-color="#dbdbff"/><stop offset="1" stop-color="#ddddff"/></linearGradient>
<linearGradient id="g35" gradientUnits="userSpaceOnUse" x1="0" y1="0" x2="82" y2="0" spreadMethod="reflect"><stop offset="0" stop-color="#d0d0ff"/><stop offset="0.02" stop-color="#d0d0ff"/><stop offset="0.05" stop-color="#d0d0ff"/><stop offset="0.07" stop-color="#d0d0ff"/><stop offset="0.11" stop-color="#d1d1ff"/><stop offset="0.15" stop-color="#d1d1ff"/><stop offset="0.2" stop-color="#d1d1ff"/><stop offset="0.24" stop-color="#d1d1ff"/><stop offset="0.3" stop-color="#d2d2ff"/><stop offset="0.37" stop-color="#d2d2ff"/><stop offset="0.44" stop-color="#d3d3ff"/><stop offset="0.51" stop-color="#d4d4ff"/><stop offset="0.61" stop-color="#d5d5ff"/><stop offset="0.71" stop-color="#d6d6ff"/><stop offset="0.8" stop-color="#d8d8ff"/><stop offset="0.9" stop-color="#dadaff"/><stop offset="1" stop-color="#dcdcff"/></linearGradient>
<linearGradient id="g36" gradientUnits="userSpaceOnUse" x1="0" y1="0" x2="82" y2="0" spreadMethod="reflect"><stop offset="0" stop-color="#cfcfff"/><stop offset="0.02" stop-color="#cfcfff"/><stop offset="0.05" stop-color="#cfcfff"/><stop offset="0.07" stop-color="#d0d0ff"/><stop offset="0.11" stop-color="#d0d0ff"/><stop offset="0.15" stop-color="#d0d0ff"/><stop offset="0.2" stop-color="#d0d0ff"/><stop offset="0.24" stop-color="#d0d0ff"/><stop offset="0.3" stop-color="#d1d1ff"/><stop offset="0.37" stop-color="#d1d1ff"/><stop offset="0.44" stop-color="#d2d2ff"/><stop offset="0.51" stop-color="#d3d3ff"/><stop offset="0.61" stop-color="#d4d4ff"/><stop offset="0.71" stop-color="#d5d5ff"/><stop offset="0.8" stop-color="#d7d7ff"/><stop offset="0.9" stop-color="#d8d8ff"/><stop offset="1" stop-color="#dbdbff"/></linearGradient>
<linearGradient id="g37" gradientUnits="userSpaceOnUse" x1="0" y1="0" x2="82" y2="0" spreadMethod="reflect"><stop offset="0" stop-color="#cfcfff"/><stop offset="0.02" stop-color="#cfcfff"/><stop offset="0.05" stop-color="#cfcfff"/><stop offset="0.07" stop-color="#cfcfff"/><stop offset="0.11" stop-color="#cfcfff"/><stop offset="0.15" stop-color="#cfcfff"/><stop offset="0.2" stop-color="#cfcfff"/><stop offset="0.24" stop-color="#d0d0ff"/><stop offset="0.3" stop-color="#d0d0ff"/><stop offset="0.37" stop-color="#d1d1ff"/><stop offset="0.44" stop-color="#d1d1ff"/><stop offset="0.51" stop-color="#d2d2ff"/><stop offset="0.61" stop-color="#d3d3ff"/><stop offset="0.71" stop-color="#d4d4ff"/><stop offset="0.8" stop-color="#d6d6ff"/><stop offset="0.9" stop-color="#d7d7ff"/><stop offset="1" stop-color="#dadaff"/></linearGradient>
<linearGradient id="g38" gradientUnits="userSpaceOnUse" x1="0" y1="0" x2="82" y2="0" spreadMethod="reflect"><stop offset="0" stop-color="#ceceff"/><stop offset="0.02" stop-color="#ceceff"/><stop offset="0.05" stop-color="#ceceff"/><stop offset="0.07" stop-color="#ceceff"/><stop offset="0.11" stop-color="#ceceff"/><stop offset="0.15" stop-color="#cfcfff"/><stop offset="0.2" stop-color="#cfcfff"/><stop offset="0.24" stop-color="#cfcfff"/><stop offset="0.3" stop-color="#cfcfff"/><stop offset="0.37" stop-color="#d0d0ff"/><stop offset="0.44" stop-color="#d0d0ff"/><stop offset="0.51" stop-color="#d1d1ff"/><stop offset="0.61" stop-color="#d2d2ff"/><stop offset="0.71" stop-color="#d3d3ff"/><stop offset="0.8" stop-color="#d5d5ff"/><stop offset="0.9" stop-color="#d6d6ff"/><stop offset="1" stop-color="#d9d9ff"/></linearGradient>
<linearGradient id="g39" gradientUnits="userSpaceOnUse" x1="0" y1="0" x2="82" y2="0" spreadMethod="reflect"><stop offset="0" stop-color="#ceceff"/><stop offset="0.02" stop-color="#ceceff"/><stop offset="0.05" stop-color="#ceceff"/><stop offset="0.07" stop-color="#ceceff"/><stop offset="0.11" stop-color="#ceceff"/><stop offset="0.15" stop-color="#ceceff"/><stop offset="0.2" stop-color="#ceceff"/><stop offset="0.24" stop-color="#cfcfff"/><stop offset="0.3" stop-color="#cfcfff"/><stop offset="0.37" stop-color="#cfcfff"/><stop offset="0.44" stop-color="#d0d0ff"/><stop offset="0.51" stop-color="#d0d0ff"/><stop offset="0.61" stop-color="#d1d1ff"/><stop offset="0.71" stop-color="#d3d3ff"/><stop offset="0.8" stop-color="#d4d4ff"/><stop offset="0.9" stop-color="#d5d5ff"/><stop offset="1" stop-color="#d8d8ff"/></linearGradient>
<linearGradient id="g40" gradientUnits="userSpaceOnUse" x1="0" y1="0" x2="82" y2="0" spreadMethod="reflect"><stop offset="0" stop-color="#cdcdff"/><stop offset="0.02" stop-color="#cdcdff"/><stop offset="0.05" stop-color="#ceceff"/><stop offset="0.07" stop-color="#ceceff"/><stop offset="0.11" stop-color="#ceceff"/><stop offset="0.15" stop-color="#ceceff"/><stop offset="0.2" stop-color="#ceceff"/><stop offset="0.24" stop-color="#ceceff"/><stop offset="0.3" stop-color="#ceceff"/><stop offset="0.37" stop-color="#cfcfff"/><stop offset="0.44" stop-color="#cfcfff"/><stop offset="0.51" stop-color="#d0d0ff"/><stop offset="0.61" stop-color="#d1d1ff"/><stop offset="0.71" stop-color="#d2d2ff"/><stop offset="0.8" stop-color="#d3d3ff"/><stop offset="0.9" stop-color="#d5d5ff"/><stop offset="1" stop-color="#d7d7ff"/></linearGradient>
<linearGradient id="g41" gradientUnits="userSpaceOnUse" x1="0" y1="0" x2="82" y2="0" spreadMethod="reflect"><stop offset="0" stop-color="#cdcdff"/><stop offset="0.02" stop-color="#cdcdff"/><stop offset="0.05" stop-color="#cdcdff"/><stop offset="0.07" stop-color="#cdcdff"/><stop offset="0.11" stop-color="#cdcdff"/><stop offset="0.15" stop-color="#cdcdff"/><stop offset="0.2" stop-color="#ceceff"/><stop offset="0.24" stop-color="#ceceff"/><stop offset="0.3" stop-color="#ceceff"/><stop offset="0.37" stop-color="#ceceff"/><stop offset="0.44" stop-color="#cfcfff"/><stop offset="0.51" stop-color="#cfcfff"/><stop offset="0.61" stop-color="#d0d0ff"/><stop offset="0.71" stop-color="#d1d1ff"/><stop offset="0.8" stop-color="#d2d2ff"/><stop offset="0.9" stop-color="#d4d4ff"/><stop offset="1" stop-color="#d6d6ff"/></linearGradient>
<linearGradient id="g42" gradientUnits="userSpaceOnUse" x1="0" y1="0" x2="82" y2="0" spreadMethod="reflect"><stop offset="0" stop-color="#cdcdff"/><stop offset="0.02" stop-color="#cdcdff"/><stop offset="0.05" stop-color="#cdcdff"/><stop offset="0.07" stop-color="#cdcdff"/><stop offset="0.11" stop-color="#cdcdff"/><stop offset="0.15" stop-color="#cdcdff"/><stop offset="0.2" stop-color="#cdcdff"/><stop offset="0.24" stop-color="#cdcdff"/><stop offset="0.3" stop-color="#ceceff"/><stop offset="0.37" stop-color="#ceceff"/><stop offset="0.44" stop-color="#ceceff"/><stop offset="0.51" stop-color="#cfcfff"/><stop offset="0.61" stop-color="#d0d0ff"/><stop offset="0.71" stop-color="#d1d1ff"/><stop offset="0.8" stop-color="#d2d2ff"/><stop offset="0.9" stop-color="#d3d3ff"/><stop offset="1" stop-color="#d5d5ff"/></linearGradient>
<linearGradient id="g43" gradientUnits="userSpaceOnUse" x1="0" y1="0" x2="82" y2="0" spreadMethod="reflect"><stop offset="0" stop-color="#cdcdff"/><stop offset="0.02" stop-color="#cdcdff"/><stop offset="0.05" stop-color="#cdcdff"/><stop offset="0.07" stop-color="#cdcdff"/><stop offset="0.11" stop-color="#cdcdff"/><stop offset="0.15" stop-color="#cdcdff"/><stop offset="0.2" stop-color="#cdcdff"/><stop offset="0.24" stop-color="#cdcdff"/><stop offset="0.3" stop-color="#cdcdff"/><stop offset="0.37" stop-color="#ceceff"/><stop offset="0.44" stop-color="#ceceff"/><stop offset="0.51" stop-color="#ceceff"/><stop offset="0.61" stop-color="#cfcfff"/><stop offset="0.71" stop-color="#d0d0ff"/><stop offset="0.8" stop-color="#d1d1ff"/><stop offset="0.9" stop-color="#d3d3ff"/><stop offset="1" stop-color="#d5d5ff"/></linearGradient>
<linearGradient id="g44" gradientUnits="userSpaceOnUse" x1="0" y1="0" x2="82" y2="0" spreadMethod="reflect"><stop offset="0" stop-color="#cdcdff"/><stop offset="0.02" stop-color="#cdcdff"/><stop offset="0.05" stop-color="#cdcdff"/><stop offset="0.07" stop-color="#cdcdff"/><stop offset="0.11" stop-color="#cdcdff"/><stop offset="0.15" stop-color="#cdcdff"/><stop offset="0.2" stop-color="#cdcdff"/><stop offset="0.24" stop-color="#cdcdff"/><stop offset="0.3" stop-color="#cdcdff"/><stop offset="0.37" stop-color="#cdcdff"/><stop offset="0.44" stop-color="#ceceff"/><stop offset="0.51" stop-color="#ceceff"/><stop offset="0.61" stop-color="#cfcfff"/><stop offset="0.71" stop-color="#d0d0ff"/><stop offset="0.8" stop-color="#d1d1ff"/><stop offset="0.9" stop-color="#d2d2ff"/><stop offset="1" stop-color="#d4d4ff"/></linearGradient>
<linearGradient id="g45" gradientUnits="userSpaceOnUse" x1="0" y1="0" x2="82" y2="0" spreadMethod="reflect"><stop offset="0" stop-color="#cdcdff"/><stop offset="0.02" stop-color="#cdcdff"/><stop offset="0.05" stop-color="#cdcdff"/><stop offset="0.07" stop-color="#cdcdff"/><stop offset="0.11" stop-color="#cdcdff"/><stop offset="0.15" stop-color="#cdcdff"/><stop offset="0.2" stop-color="#cdcdff"/><stop offset="0.24" stop-color="#cdcdff"/><stop offset="0.3" stop-color="#cdcdff"/><stop offset="0.37" stop-color="#cdcdff"/><stop offset="0.44" stop-color="#cdcdff"/><stop offset="0.51" stop-color="#ceceff"/><stop offset="0.61" stop-color="#ceceff"/><stop offset="0.71" stop-color="#cfcfff"/><stop offset="0.8" stop-color="#d0d0ff"/><stop offset="0.9" stop-color="#d1d1ff"/><stop offset="1" stop-color="#d3d3ff"/></linearGradient>
<linearGradient id="g46" gradientUnits="userSpaceOnUse" x1="0" y1="0" x2="82" y2="0" spreadMethod="reflect"><stop offset="0" stop-color="#ccccff"/><stop offset="0.02" stop-color="#ccccff"/><stop offset="0.05" stop-color="#ccccff"/><stop offset="0.07" stop-color="#ccccff"/><stop offset="0.11" stop-color="#ccccff"/><stop offset="0.15" stop-color="#cdcdff"/><stop offset="0.2" stop-color="#cdcdff"/><stop offset="0.24" stop-color="#cdcdff"/><stop offset="0.3" stop-color="#cdcdff"/><stop offset="0.37" stop-color="#cdcdff"/><stop offset="0.44" stop-color="#cdcdff"/><stop offset="0.51" stop-color="#ceceff"/><stop offset="0.61" stop-color="#ceceff"/><stop offset="0.71" stop-color="#cfcfff"/><stop offset="0.8" stop-color="#d0d0ff"/><stop offset="0.9" stop-color="#d1d1ff"/><stop offset="1" stop-color="#d3d3ff"/></linearGradient>
<linearGradient id="g47" gradientUnits="userSpaceOnUse" x1="0" y1="0" x2="82" y2="0" spreadMethod="reflect"><stop offset="0" stop-color="#ccccff"/><stop offset="0.02" stop-color="#ccccff"/><stop offset="0.05" stop-color="#ccccff"/><stop offset="0.07" stop-color="#ccccff"/><stop offset="0.11" stop-color="#ccccff"/><stop offset="0.15" stop-color="#ccccff"/><stop offset="0.2" stop-color="#ccccff"/><stop offset="0.24" stop-color="#cdcdff"/><stop offset="0.3" stop-color="#cdcdff"/><stop offset="0.37" stop-color="#cdcdff"/><stop offset="0.44" stop-color="#cdcdff"/><stop offset="0.51" stop-color="#cdcdff"/><stop offset="0.61" stop-color="#ceceff"/><stop offset="0.71" stop-color="#cfcfff"/><stop offset="0.8" stop-color="#cfcfff"/><stop offset="0.9" stop-color="#d1d1ff"/><stop offset="1" stop-color="#d2d2ff"/></linearGradient>
<linearGradient id="g48" gradientUnits="userSpaceOnUse" x1="0" y1="0" x2="82" y2="0" spreadMethod="reflect"><stop offset="0" stop-color="#ccccff"/><stop offset="0.02" stop-color="#ccccff"/><stop offset="0.05" stop-color="#ccccff"/><stop offset="0.07" stop-color="#ccccff"/><stop offset="0.11" stop-color="#ccccff"/><stop offset="0.15" stop-color="#ccccff"/><stop offset="0.2" stop-color="#ccccff"/><stop offset="0.24" stop-color="#ccccff"/><stop offset="0.3" stop-color="#cdcdff"/><stop offset="0.37" stop-color="#cdcdff"/><stop offset="0.44" stop-color="#cdcdff"/><stop offset="0.51" stop-color="#cdcdff"/><stop offset="0.61" stop-color="#ceceff"/><stop offset="0.71" stop-color="#ceceff"/><stop offset="0.8" stop-color="#cfcfff"/><stop offset="0.9" stop-color="#d0d0ff"/><stop offset="1" stop-color="#d2d2ff"/></linearGradient>
<linearGradient id="g49" gradientUnits="userSpaceOnUse" x1="0" y1="0" x2="82" y2="0" spreadMethod="reflect"><stop offset="0" stop-color="#ccccff"/><stop offset="0.02" stop-color="#ccccff"/><stop offset="0.05" stop-color="#ccccff"/><stop offset="0.07" stop-color="#ccccff"/><stop offset="0.11" stop-color="#ccccff"/><stop offset="0.15" stop-color="#ccccff"/><stop offset="0.2" stop-color="#ccccff"/><stop offset="0.24" stop-color="#ccccff"/><stop offset="0.3" stop-color="#ccccff"/><stop offset="0.37" stop-color="#cdcdff"/><stop offset="0.44" stop-color="#cdcdff"/><stop offset="0.51" stop-color="#cdcdff"/><stop offset="0.61" stop-color="#cdcdff"/><stop offset="0.71" stop-color="#ceceff"/><stop offset="0.8" stop-color="#cfcfff"/><stop offset="0.9" stop-color="#d0d0ff"/><stop offset="1" stop-color="#d1d1ff"/></linearGradient>
<linearGradient id="g50" gradientUnits="userSpaceOnUse" x1="0" y1="0" x2="82" y2="0" spreadMethod="reflect"><stop offset="0" stop-color="#ccccff"/><stop offset="0.02" stop-color="#ccccff"/><stop offset="0.05" stop-color="#ccccff"/><stop offset="0.07" stop-color="#ccccff"/><stop offset="0.11" stop-color="#ccccff"/><stop offset="0.15" stop-color="#ccccff"/><stop offset="0.2" stop-color="#ccccff"/><stop offset="0.24" stop-color="#ccccff"/><stop offset="0.3" stop-color="#ccccff"/><stop offset="0.37" stop-color="#ccccff"/><stop offset="0.44" stop-color="#cdcdff"/><stop offset="0.51" stop-color="#cdcdff"/><stop offset="0.61" stop-color="#cdcdff"/><stop offset="0.71" stop-color="#ceceff"/><stop offset="0.8" stop-color="#cfcfff"/><stop offset="0.9" stop-color="#cfcfff"/><stop offset="1" stop-color="#d1d1ff"/></linearGradient>
<linearGradient id="g51" gradientUnits="userSpaceOnUse" x1="0" y1="0" x2="82" y2="0" spreadMethod="reflect"><stop offset="0" stop-color="#ccccff"/><stop offset="0.02" stop-color="#ccccff"/><stop offset="0.05" stop-color="#ccccff"/><stop offset="0.07" stop-color="#ccccff"/><stop offset="0.11" stop-color="#ccccff"/><stop offset="0.15" stop-color="#ccccff"/><stop offset="0.2" stop-color="#ccccff"/><stop offset="0.24" stop-color="#ccccff"/><stop offset="0.3" stop-color="#ccccff"/><stop offset="0.37" stop-color="#ccccff"/><stop offset="0.44" stop-color="#cdcdff"/><stop offset="0.51" stop-color="#cdcdff"/><stop offset="0.61" stop-color="#cdcdff"/><stop offset="0.71" stop-color="#ceceff"/><stop offset="0.8" stop-color="#ceceff"/><stop offset="0.9" stop-color="#cfcfff"/><stop offset="1" stop-color="#d1d1ff"/></linearGradient>
<linearGradient id="g52" gradientUnits="userSpaceOnUse" x1="0" y1="0" x2="82" y2="0" spreadMethod="reflect"><stop offset="0" stop-color="#ccccff"/><stop offset="0.02" stop-color="#ccccff"/><stop offset="0.05" stop-color="#ccccff"/><stop offset="0.07" stop-color="#ccccff"/><stop offset="0.11" stop-color="#ccccff"/><stop offset="0.15" stop-color="#ccccff"/><stop offset="0.2" stop-color="#ccccff"/><stop offset="0.24" stop-color="#ccccff"/><stop offset="0.3" stop-color="#ccccff"/><stop offset="0.37" stop-color="#ccccff"/><stop offset="0.44" stop-color="#ccccff"/><stop offset="0.51" stop-color="#cdcdff"/><stop offset="0.61" stop-color="#cdcdff"/><stop offset="0.71" stop-color="#cdcdff"/><stop offset="0.8" stop-color="#ceceff"/><stop offset="0.9" stop-color="#cfcfff"/><stop offset="1" stop-color="#d0d0ff"/></linearGradient>
<linearGradient id="g53" gradientUnits="userSpaceOnUse" x1="0" y1="0" x2="82" y2="0" spreadMethod="reflect"><stop offset="0" stop-color="#ccccff"/><stop offset="0.02" stop-color="#ccccff"/><stop offset="0.05" stop-color="#ccccff"/><stop offset="0.07" stop-color="#ccccff"/><stop offset="0.11" stop-color="#ccccff"/><stop offset="0.15" stop-color="#ccccff"/><stop offset="0.2" stop-color="#ccccff"/><stop offset="0.24" stop-color="#ccccff"/><stop offset="0.3" stop-color="#ccccff"/><stop offset="0.37" stop-color="#ccccff"/><stop offset="0.44" stop-color="#ccccff"/><stop offset="0.51" stop-color="#cdcdff"/><stop offset="0.61" stop-color="#cdcdff"/><stop offset="0.71" stop-color="#cdcdff"/><stop offset="0.8" stop-color="#ceceff"/><stop offset="0.9" stop-color="#cfcfff"/><stop offset="1" stop-color="#d0d0ff"/></linearGradient>
<linearGradient id="g54" gradientUnits="userSpaceOnUse" x1="0" y1="0" x2="82" y2="0" spreadMethod="reflect"><stop offset="0" stop-color="#ccccff"/><stop offset="0.02" stop-color="#ccccff"/><stop offset="0.05" stop-color="#ccccff"/><stop offset="0.07" stop-color="#ccccff"/><stop offset="0.11" stop-color="#ccccff"/><stop offset="0.15" stop-color="#ccccff"/><stop offset="0.2" stop-color="#ccccff"/><stop offset="0.24" stop-color="#ccccff"/><stop offset="0.3" stop-color="#ccccff"/><stop offset="0.37" stop-color="#ccccff"/><stop offset="0.44" stop-color="#ccccff"/><stop offset="0.51" stop-color="#ccccff"/><stop offset="0.61" stop-color="#cdcdff"/><stop offset="0.71" stop-color="#cdcdff"/><stop offset="0.8" stop-color="#ceceff"/><stop offset="0.9" stop-color="#ceceff"/><stop offset="1" stop-color="#d0d0ff"/></linearGradient>
<linearGradient id="g55" gradientUnits="userSpaceOnUse" x1="0" y1="0" x2="82" y2="0" spreadMethod="reflect"><stop offset="0" stop-color="#ccccff"/><stop offset="0.02" stop-color="#ccccff"/><stop offset="0.05" stop-color="#ccccff"/><stop offset="0.07" stop-color="#ccccff"/><stop offset="0.11" stop-color="#ccccff"/><stop offset="0.15" stop-color="#ccccff"/><stop offset="0.2" stop-color="#ccccff"/><stop offset="0.24" stop-color="#ccccff"/><stop offset="0.3" stop-color="#ccccff"/><stop offset="0.37" stop-color="#ccccff"/><stop offset="0.44" stop-color="#ccccff"/><stop offset="0.51" stop-color="#ccccff"/><stop offset="0.61" stop-color="#cdcdff"/><stop offset="0.71" stop-color="#cdcdff"/><stop offset="0.8" stop-color="#cdcdff"/><stop offset="0.9" stop-color="#ceceff"/><stop offset="1" stop-color="#cfcfff"/></linearGradient>
<g id="hh"><rect x="-82" y="-0.2" width="164" height="1.4" fill="url(#g0)"/><rect x="-82" y="0.8" width="164" height="1.4" fill="url(#g1)"/><rect x="-82" y="1.8" width="164" height="1.4" fill="url(#g2)"/><rect x="-82" y="2.8" width="164" height="1.4" fill="url(#g3)"/><rect x="-82" y="3.8" width="164" height="1.4" fill="url(#g4)"/><rect x="-82" y="4.8" width="164" height="1.4" fill="url(#g5)"/><rect x="-82" y="5.8" width="164" height="1.4" fill="url(#g6)"/><rect x="-82" y="6.8" width="164" height="1.4" fill="url(#g7)"/><rect x="-82" y="7.8" width="164" height="1.4" fill="url(#g8)"/><rect x="-82" y="8.8" width="164" height="1.4" fill="url(#g9)"/><rect x="-82" y="9.8" width="164" height="1.4" fill="url(#g10)"/><rect x="-82" y="10.8" width="164" height="1.4" fill="url(#g11)"/><rect x="-82" y="11.8" width="164" height="1.4" fill="url(#g12)"/><rect x="-82" y="12.8" width="164" height="1.4" fill="url(#g13)"/><rect x="-82" y="13.8" width="164" height="1.4" fill="url(#g14)"/><rect x="-82" y="14.8" width="164" height="1.4" fill="url(#g15)"/><rect x="-82" y="15.8" width="164" height="1.4" fill="url(#g16)"/><rect x="-82" y="16.8" width="164" height="1.4" fill="url(#g17)"/><rect x="-82" y="17.8" width="164" height="1.4" fill="url(#g18)"/><rect x="-82" y="18.8" width="164" height="1.4" fill="url(#g19)"/><rect x="-82" y="19.8" width="164" height="1.4" fill="url(#g20)"/><rect x="-82" y="20.8" width="164" height="1.4" fill="url(#g21)"/><rect x="-82" y="21.8" width="164" height="1.4" fill="url(#g22)"/><rect x="-82" y="22.8" width="164" height="1.4" fill="url(#g23)"/><rect x="-82" y="23.8" width="164" height="1.4" fill="url(#g24)"/><rect x="-82" y="24.8" width="164" height="1.4" fill="url(#g25)"/><rect x="-82" y="25.8" width="164" height="1.4" fill="url(#g26)"/><rect x="-82" y="26.8" width="164" height="1.4" fill="url(#g27)"/><rect x="-82" y="27.8" width="164" height="1.4" fill="url(#g28)"/><rect x="-82" y="28.8" width="164" height="1.4" fill="url(#g29)"/><rect x="-82" y="29.8" width="164" height="1.4" fill="url(#g30)"/><rect x="-82" y="30.8" width="164" height="1.4" fill="url(#g31)"/><rect x="-82" y="31.8" width="164" height="1.4" fill="url(#g32)"/><rect x="-82" y="32.8" width="164" height="1.4" fill="url(#g33)"/><rect x="-82" y="33.8" width="164" height="1.4" fill="url(#g34)"/><rect x="-82" y="34.8" width="164" height="1.4" fill="url(#g35)"/><rect x="-82" y="35.8" width="164" height="1.4" fill="url(#g36)"/><rect x="-82" y="36.8" width="164" height="1.4" fill="url(#g37)"/><rect x="-82" y="37.8" width="164" height="1.4" fill="url(#g38)"/><rect x="-82" y="38.8" width="164" height="1.4" fill="url(#g39)"/><rect x="-82" y="39.8" width="164" height="1.4" fill="url(#g40)"/><rect x="-82" y="40.8" width="164" height="1.4" fill="url(#g41)"/><rect x="-82" y="41.8" width="164" height="1.4" fill="url(#g42)"/><rect x="-82" y="42.8" width="164" height="1.4" fill="url(#g43)"/><rect x="-82" y="43.8" width="164" height="1.4" fill="url(#g44)"/><rect x="-82" y="44.8" width="164" height="1.4" fill="url(#g45)"/><rect x="-82" y="45.8" width="164" height="1.4" fill="url(#g46)"/><rect x="-82" y="46.8" width="164" height="1.4" fill="url(#g47)"/><rect x="-82" y="47.8" width="164" height="1.4" fill="url(#g48)"/><rect x="-82" y="48.8" width="164" height="1.4" fill="url(#g49)"/><rect x="-82" y="49.8" width="164" height="1.4" fill="url(#g50)"/><rect x="-82" y="50.8" width="164" height="1.4" fill="url(#g51)"/><rect x="-82" y="51.8" width="164" height="1.4" fill="url(#g52)"/><rect x="-82" y="52.8" width="164" height="1.4" fill="url(#g53)"/><rect x="-82" y="53.8" width="164" height="1.4" fill="url(#g54)"/><rect x="-82" y="54.8" width="164" height="1.4" fill="url(#g55)"/></g>
<g id="hm"><use href="#hh"/><use href="#hh" transform="scale(1,-1)"/></g>
<clipPath id="hc0"><polygon points="199.5,47.4 278.91,93.25 278.91,184.95 199.5,230.8 120.09,184.95 120.09,93.25"/></clipPath>
<clipPath id="hc1"><polygon points="490.3,53.4 569.71,99.25 569.71,190.95 490.3,236.8 410.89,190.95 410.89,99.25"/></clipPath>
<clipPath id="hc2"><polygon points="794.9,56.5 874.31,102.35 874.31,194.05 794.9,239.9 715.49,194.05 715.49,102.35"/></clipPath>
<clipPath id="hc3"><polygon points="1086.6,59 1166.01,104.85 1166.01,196.55 1086.6,242.4 1007.19,196.55 1007.19,104.85"/></clipPath>
<clipPath id="acb"><rect x="99.1" y="288.4" width="232.7" height="322.4"/></clipPath>
<clipPath id="ace"><rect x="392.4" y="288.4" width="232.4" height="322.4"/></clipPath>
<clipPath id="ach"><rect x="698.4" y="288.4" width="232.4" height="322.4"/></clipPath>
<clipPath id="ack"><rect x="995.7" y="288.4" width="232.7" height="322.4"/></clipPath>
<clipPath id="acc"><rect x="100" y="748.9" width="226.5" height="275.4"/></clipPath>
<clipPath id="acf"><rect x="401.6" y="748.9" width="226.2" height="275.4"/></clipPath>
<clipPath id="aci"><rect x="703.5" y="748.9" width="226.3" height="275.4"/></clipPath>
<clipPath id="acl"><rect x="1005" y="748.9" width="226.7" height="275.4"/></clipPath></defs>
<rect width="1244" height="1132" fill="#fff"/>
<g clip-path="url(#hc0)"><polygon points="199.5,47.4 278.91,93.25 278.91,184.95 199.5,230.8 120.09,184.95 120.09,93.25" fill="#ccccff"/><use href="#hm" x="199.5" y="139.1"/></g>
<path d="M199.5 47.4 L278.91 93.25 L278.91 184.95 L199.5 230.8 L120.09 184.95 L120.09 93.25 L199.5 47.4" fill="none" stroke="#1f77b4" stroke-width="6.4" stroke-linejoin="round" stroke-linecap="square"/>
<g fill="#000"><circle cx="199.5" cy="139.1" r="5.8"/><circle cx="225.97" cy="139.1" r="5.8"/><circle cx="252.44" cy="139.1" r="5.8"/><circle cx="305.39" cy="139.1" r="5.8"/><circle cx="331.86" cy="139.1" r="5.8"/><circle cx="173.03" cy="93.25" r="5.8"/><circle cx="199.5" cy="93.25" r="5.8"/><circle cx="225.97" cy="93.25" r="5.8"/><circle cx="252.44" cy="93.25" r="5.8"/><circle cx="278.91" cy="93.25" r="5.8"/><circle cx="305.39" cy="93.25" r="5.8"/><circle cx="146.56" cy="47.4" r="5.8"/><circle cx="173.03" cy="47.4" r="5.8"/><circle cx="199.5" cy="47.4" r="5.8"/><circle cx="225.97" cy="47.4" r="5.8"/><circle cx="252.44" cy="47.4" r="5.8"/><circle cx="278.91" cy="47.4" r="5.8"/></g>
<g fill="#008000" stroke="#008000" stroke-width="2.9" stroke-linejoin="round"><polygon points="284.21,139.1 281.56,143.69 276.26,143.69 273.61,139.1 276.26,134.51 281.56,134.51"/></g>
<g clip-path="url(#hc1)"><polygon points="490.3,53.4 569.71,99.25 569.71,190.95 490.3,236.8 410.89,190.95 410.89,99.25" fill="#ccccff"/><use href="#hm" x="490.3" y="145.1"/></g>
<path d="M490.3 53.4 L569.71 99.25 L569.71 190.95 L490.3 236.8 L410.89 190.95 L410.89 99.25 L490.3 53.4" fill="none" stroke="#1f77b4" stroke-width="6.4" stroke-linejoin="round" stroke-linecap="square"/>
<g fill="#000"><circle cx="490.3" cy="145.1" r="5.8"/><circle cx="516.77" cy="145.1" r="5.8"/><circle cx="569.71" cy="145.1" r="5.8"/><circle cx="622.66" cy="145.1" r="5.8"/><circle cx="470.45" cy="110.71" r="5.8"/><circle cx="496.92" cy="110.71" r="5.8"/><circle cx="523.39" cy="110.71" r="5.8"/><circle cx="549.86" cy="110.71" r="5.8"/><circle cx="576.33" cy="110.71" r="5.8"/><circle cx="602.8" cy="110.71" r="5.8"/><circle cx="450.59" cy="76.32" r="5.8"/><circle cx="477.06" cy="76.32" r="5.8"/><circle cx="503.54" cy="76.32" r="5.8"/><circle cx="530.01" cy="76.32" r="5.8"/><circle cx="556.48" cy="76.32" r="5.8"/><circle cx="582.95" cy="76.32" r="5.8"/><circle cx="430.74" cy="41.94" r="5.8"/><circle cx="457.21" cy="41.94" r="5.8"/><circle cx="483.68" cy="41.94" r="5.8"/><circle cx="510.15" cy="41.94" r="5.8"/><circle cx="536.63" cy="41.94" r="5.8"/><circle cx="563.1" cy="41.94" r="5.8"/></g>
<g fill="#008000" stroke="#008000" stroke-width="2.9" stroke-linejoin="round"><polygon points="548.54,145.1 545.89,149.69 540.59,149.69 537.94,145.1 540.59,140.51 545.89,140.51"/><polygon points="601.49,145.1 598.84,149.69 593.54,149.69 590.89,145.1 593.54,140.51 598.84,140.51"/></g>
<g clip-path="url(#hc2)"><polygon points="794.9,56.5 874.31,102.35 874.31,194.05 794.9,239.9 715.49,194.05 715.49,102.35" fill="#ccccff"/><use href="#hm" x="794.9" y="148.2"/></g>
<path d="M794.9 56.5 L874.31 102.35 L874.31 194.05 L794.9 239.9 L715.49 194.05 L715.49 102.35 L794.9 56.5" fill="none" stroke="#1f77b4" stroke-width="6.4" stroke-linejoin="round" stroke-linecap="square"/>
<g fill="#000"><circle cx="794.9" cy="148.2" r="5.8"/><circle cx="821.37" cy="148.2" r="5.8"/><circle cx="847.84" cy="148.2" r="5.8"/><circle cx="900.79" cy="148.2" r="5.8"/><circle cx="927.26" cy="148.2" r="5.8"/><circle cx="779.02" cy="120.69" r="5.8"/><circle cx="805.49" cy="120.69" r="5.8"/><circle cx="831.96" cy="120.69" r="5.8"/><circle cx="858.43" cy="120.69" r="5.8"/><circle cx="884.9" cy="120.69" r="5.8"/><circle cx="911.37" cy="120.69" r="5.8"/><circle cx="763.13" cy="93.18" r="5.8"/><circle cx="789.61" cy="93.18" r="5.8"/><circle cx="816.08" cy="93.18" r="5.8"/><circle cx="842.55" cy="93.18" r="5.8"/><circle cx="869.02" cy="93.18" r="5.8"/><circle cx="895.49" cy="93.18" r="5.8"/><circle cx="747.25" cy="65.67" r="5.8"/><circle cx="773.72" cy="65.67" r="5.8"/><circle cx="800.19" cy="65.67" r="5.8"/><circle cx="826.67" cy="65.67" r="5.8"/><circle cx="853.14" cy="65.67" r="5.8"/><circle cx="879.61" cy="65.67" r="5.8"/><circle cx="731.37" cy="38.16" r="5.8"/><circle cx="757.84" cy="38.16" r="5.8"/><circle cx="784.31" cy="38.16" r="5.8"/><circle cx="810.78" cy="38.16" r="5.8"/><circle cx="837.25" cy="38.16" r="5.8"/><circle cx="863.73" cy="38.16" r="5.8"/></g>
<g fill="#008000" stroke="#008000" stroke-width="2.9" stroke-linejoin="round"><polygon points="879.61,148.2 876.96,152.79 871.66,152.79 869.01,148.2 871.66,143.61 876.96,143.61"/></g>
<g clip-path="url(#hc3)"><polygon points="1086.6,59 1166.01,104.85 1166.01,196.55 1086.6,242.4 1007.19,196.55 1007.19,104.85" fill="#ccccff"/><use href="#hm" x="1086.6" y="150.7"/></g>
<path d="M1086.6 59 L1166.01 104.85 L1166.01 196.55 L1086.6 242.4 L1007.19 196.55 L1007.19 104.85 L1086.6 59" fill="none" stroke="#1f77b4" stroke-width="6.4" stroke-linejoin="round" stroke-linecap="square"/>
<g fill="#000"><circle cx="1086.6" cy="150.7" r="5.8"/><circle cx="1113.07" cy="150.7" r="5.8"/><circle cx="1166.01" cy="150.7" r="5.8"/><circle cx="1218.96" cy="150.7" r="5.8"/><circle cx="1073.36" cy="127.77" r="5.8"/><circle cx="1099.84" cy="127.77" r="5.8"/><circle cx="1126.31" cy="127.77" r="5.8"/><circle cx="1152.78" cy="127.77" r="5.8"/><circle cx="1179.25" cy="127.77" r="5.8"/><circle cx="1205.72" cy="127.77" r="5.8"/><circle cx="1060.13" cy="104.85" r="5.8"/><circle cx="1086.6" cy="104.85" r="5.8"/><circle cx="1113.07" cy="104.85" r="5.8"/><circle cx="1139.54" cy="104.85" r="5.8"/><circle cx="1166.01" cy="104.85" r="5.8"/><circle cx="1192.49" cy="104.85" r="5.8"/><circle cx="1046.89" cy="81.92" r="5.8"/><circle cx="1073.36" cy="81.92" r="5.8"/><circle cx="1099.84" cy="81.92" r="5.8"/><circle cx="1126.31" cy="81.92" r="5.8"/><circle cx="1152.78" cy="81.92" r="5.8"/><circle cx="1179.25" cy="81.92" r="5.8"/><circle cx="1033.66" cy="59" r="5.8"/><circle cx="1060.13" cy="59" r="5.8"/><circle cx="1086.6" cy="59" r="5.8"/><circle cx="1113.07" cy="59" r="5.8"/><circle cx="1139.54" cy="59" r="5.8"/><circle cx="1166.01" cy="59" r="5.8"/><circle cx="1020.42" cy="36.07" r="5.8"/><circle cx="1046.89" cy="36.07" r="5.8"/><circle cx="1073.36" cy="36.07" r="5.8"/><circle cx="1099.84" cy="36.07" r="5.8"/><circle cx="1126.31" cy="36.07" r="5.8"/><circle cx="1152.78" cy="36.07" r="5.8"/></g>
<g fill="#008000" stroke="#008000" stroke-width="2.9" stroke-linejoin="round"><polygon points="1144.84,150.7 1142.19,155.29 1136.89,155.29 1134.24,150.7 1136.89,146.11 1142.19,146.11"/><polygon points="1197.79,150.7 1195.14,155.29 1189.84,155.29 1187.19,150.7 1189.84,146.11 1195.14,146.11"/></g>
<g clip-path="url(#acb)" fill="#000"><circle cx="109.5" cy="304.7" r="5.3"/><circle cx="109.5" cy="368.1" r="5.3"/><circle cx="109.5" cy="544.7" r="5.3"/><circle cx="109.5" cy="586.1" r="5.3"/><circle cx="121.85" cy="289.3" r="5.3"/><circle cx="121.85" cy="457.3" r="5.3"/><circle cx="134.2" cy="289.3" r="5.3"/><circle cx="134.2" cy="457.3" r="5.3"/><circle cx="158.9" cy="372" r="5.3"/><circle cx="171.25" cy="364.6" r="5.3"/><circle cx="171.25" cy="289.3" r="5.3"/><circle cx="183.6" cy="387.2" r="5.3"/><circle cx="195.95" cy="457.3" r="5.3"/><circle cx="195.95" cy="289.3" r="5.3"/><circle cx="208.3" cy="375" r="5.3"/><circle cx="208.3" cy="293.4" r="5.3"/><circle cx="220.65" cy="390.5" r="5.3"/><circle cx="220.65" cy="295.6" r="5.3"/><circle cx="220.65" cy="544.7" r="5.3"/><circle cx="233" cy="364.9" r="5.3"/><circle cx="233" cy="289.3" r="5.3"/><circle cx="245.35" cy="364.9" r="5.3"/><circle cx="245.35" cy="289.3" r="5.3"/><circle cx="257.7" cy="387.2" r="5.3"/><circle cx="270.05" cy="375" r="5.3"/><circle cx="270.05" cy="293.4" r="5.3"/><circle cx="282.4" cy="457.3" r="5.3"/><circle cx="282.4" cy="289.3" r="5.3"/><circle cx="307.1" cy="364.9" r="5.3"/><circle cx="307.1" cy="289.3" r="5.3"/><circle cx="319.45" cy="372" r="5.3"/></g>
<g clip-path="url(#ace)" fill="#000"><circle cx="402.8" cy="298.22" r="5.3"/><circle cx="402.8" cy="313.41" r="5.3"/><circle cx="412.01" cy="300.39" r="5.3"/><circle cx="412.01" cy="335.77" r="5.3"/><circle cx="421.22" cy="303.64" r="5.3"/><circle cx="421.22" cy="406.75" r="5.3"/><circle cx="421.22" cy="412.61" r="5.3"/><circle cx="430.43" cy="300.39" r="5.3"/><circle cx="430.43" cy="335.77" r="5.3"/><circle cx="439.64" cy="299.74" r="5.3"/><circle cx="439.64" cy="310.81" r="5.3"/><circle cx="448.85" cy="300.82" r="5.3"/><circle cx="448.85" cy="335.12" r="5.3"/><circle cx="458.06" cy="297.78" r="5.3"/><circle cx="458.06" cy="407.18" r="5.3"/><circle cx="458.06" cy="410.66" r="5.3"/><circle cx="467.27" cy="300.82" r="5.3"/><circle cx="467.27" cy="336.64" r="5.3"/><circle cx="476.48" cy="298.22" r="5.3"/><circle cx="476.48" cy="314.5" r="5.3"/><circle cx="485.69" cy="300.39" r="5.3"/><circle cx="485.69" cy="336.2" r="5.3"/><circle cx="494.9" cy="297.78" r="5.3"/><circle cx="494.9" cy="406.75" r="5.3"/><circle cx="494.9" cy="410" r="5.3"/><circle cx="504.11" cy="299.3" r="5.3"/><circle cx="504.11" cy="335.55" r="5.3"/><circle cx="513.32" cy="298.87" r="5.3"/><circle cx="513.32" cy="310.81" r="5.3"/><circle cx="522.53" cy="299.3" r="5.3"/><circle cx="522.53" cy="336.2" r="5.3"/><circle cx="531.74" cy="303.64" r="5.3"/><circle cx="531.74" cy="406.75" r="5.3"/><circle cx="531.74" cy="412.61" r="5.3"/><circle cx="540.95" cy="298.87" r="5.3"/><circle cx="540.95" cy="335.77" r="5.3"/><circle cx="550.16" cy="297.78" r="5.3"/><circle cx="550.16" cy="314.5" r="5.3"/><circle cx="559.37" cy="299.3" r="5.3"/><circle cx="559.37" cy="335.55" r="5.3"/><circle cx="568.58" cy="298.22" r="5.3"/><circle cx="568.58" cy="407.18" r="5.3"/><circle cx="568.58" cy="410" r="5.3"/><circle cx="577.79" cy="299.74" r="5.3"/><circle cx="577.79" cy="336.2" r="5.3"/><circle cx="587" cy="300.39" r="5.3"/><circle cx="587" cy="310.81" r="5.3"/><circle cx="596.21" cy="301.04" r="5.3"/><circle cx="596.21" cy="336.42" r="5.3"/><circle cx="605.42" cy="298.22" r="5.3"/><circle cx="605.42" cy="407.18" r="5.3"/><circle cx="605.42" cy="410" r="5.3"/><circle cx="614.63" cy="301.04" r="5.3"/><circle cx="614.63" cy="335.12" r="5.3"/><circle cx="402.8" cy="594.4" r="5.3"/><circle cx="476.48" cy="594.4" r="5.3"/><circle cx="550.16" cy="594.4" r="5.3"/></g>
<g clip-path="url(#ach)" fill="#000"><circle cx="708.9" cy="322.84" r="5.3"/><circle cx="708.9" cy="335.9" r="5.3"/><circle cx="708.9" cy="341.13" r="5.3"/><circle cx="708.9" cy="360.46" r="5.3"/><circle cx="716.19" cy="317.93" r="5.3"/><circle cx="716.19" cy="325.98" r="5.3"/><circle cx="716.19" cy="334.86" r="5.3"/><circle cx="716.19" cy="346.14" r="5.3"/><circle cx="716.19" cy="364.12" r="5.3"/><circle cx="738.06" cy="317.93" r="5.3"/><circle cx="738.06" cy="325.98" r="5.3"/><circle cx="738.06" cy="334.86" r="5.3"/><circle cx="738.06" cy="346.14" r="5.3"/><circle cx="738.06" cy="364.12" r="5.3"/><circle cx="723.48" cy="295.88" r="5.3"/><circle cx="723.48" cy="332.77" r="5.3"/><circle cx="723.48" cy="358.47" r="5.3"/><circle cx="730.77" cy="295.88" r="5.3"/><circle cx="730.77" cy="332.77" r="5.3"/><circle cx="730.77" cy="358.47" r="5.3"/><circle cx="745.35" cy="310.83" r="5.3"/><circle cx="745.35" cy="322.84" r="5.3"/><circle cx="745.35" cy="335.38" r="5.3"/><circle cx="745.35" cy="340.61" r="5.3"/><circle cx="891.15" cy="310.83" r="5.3"/><circle cx="891.15" cy="322.84" r="5.3"/><circle cx="891.15" cy="335.38" r="5.3"/><circle cx="891.15" cy="340.61" r="5.3"/><circle cx="752.64" cy="310.72" r="5.3"/><circle cx="752.64" cy="320.65" r="5.3"/><circle cx="752.64" cy="330.89" r="5.3"/><circle cx="752.64" cy="337.47" r="5.3"/><circle cx="752.64" cy="343.22" r="5.3"/><circle cx="752.64" cy="364.43" r="5.3"/><circle cx="920.31" cy="310.72" r="5.3"/><circle cx="920.31" cy="320.65" r="5.3"/><circle cx="920.31" cy="330.89" r="5.3"/><circle cx="920.31" cy="337.47" r="5.3"/><circle cx="920.31" cy="343.22" r="5.3"/><circle cx="920.31" cy="364.43" r="5.3"/><circle cx="759.93" cy="302.88" r="5.3"/><circle cx="759.93" cy="333.61" r="5.3"/><circle cx="759.93" cy="362.34" r="5.3"/><circle cx="913.02" cy="302.88" r="5.3"/><circle cx="913.02" cy="333.61" r="5.3"/><circle cx="913.02" cy="362.34" r="5.3"/><circle cx="767.22" cy="299.85" r="5.3"/><circle cx="767.22" cy="334.02" r="5.3"/><circle cx="767.22" cy="363.28" r="5.3"/><circle cx="905.73" cy="299.85" r="5.3"/><circle cx="905.73" cy="334.02" r="5.3"/><circle cx="905.73" cy="363.28" r="5.3"/><circle cx="774.51" cy="309.57" r="5.3"/><circle cx="774.51" cy="313.75" r="5.3"/><circle cx="774.51" cy="327.54" r="5.3"/><circle cx="774.51" cy="334.34" r="5.3"/><circle cx="774.51" cy="345.73" r="5.3"/><circle cx="774.51" cy="365.16" r="5.3"/><circle cx="898.44" cy="309.57" r="5.3"/><circle cx="898.44" cy="313.75" r="5.3"/><circle cx="898.44" cy="327.54" r="5.3"/><circle cx="898.44" cy="334.34" r="5.3"/><circle cx="898.44" cy="345.73" r="5.3"/><circle cx="898.44" cy="365.16" r="5.3"/><circle cx="781.8" cy="322.53" r="5.3"/><circle cx="781.8" cy="337.78" r="5.3"/><circle cx="781.8" cy="353.67" r="5.3"/><circle cx="854.7" cy="322.53" r="5.3"/><circle cx="854.7" cy="337.78" r="5.3"/><circle cx="854.7" cy="353.67" r="5.3"/><circle cx="789.09" cy="315.84" r="5.3"/><circle cx="789.09" cy="327.54" r="5.3"/><circle cx="789.09" cy="334.34" r="5.3"/><circle cx="789.09" cy="348.97" r="5.3"/><circle cx="789.09" cy="364.64" r="5.3"/><circle cx="883.86" cy="315.84" r="5.3"/><circle cx="883.86" cy="327.54" r="5.3"/><circle cx="883.86" cy="334.34" r="5.3"/><circle cx="883.86" cy="348.97" r="5.3"/><circle cx="883.86" cy="364.64" r="5.3"/><circle cx="796.38" cy="290.97" r="5.3"/><circle cx="796.38" cy="333.81" r="5.3"/><circle cx="796.38" cy="357.85" r="5.3"/><circle cx="876.57" cy="290.97" r="5.3"/><circle cx="876.57" cy="333.81" r="5.3"/><circle cx="876.57" cy="357.85" r="5.3"/><circle cx="803.67" cy="295.15" r="5.3"/><circle cx="803.67" cy="334.34" r="5.3"/><circle cx="803.67" cy="358.58" r="5.3"/><circle cx="869.28" cy="295.15" r="5.3"/><circle cx="869.28" cy="334.34" r="5.3"/><circle cx="869.28" cy="358.58" r="5.3"/><circle cx="810.96" cy="312.92" r="5.3"/><circle cx="810.96" cy="329.32" r="5.3"/><circle cx="810.96" cy="342.7" r="5.3"/><circle cx="810.96" cy="364.12" r="5.3"/><circle cx="861.99" cy="312.92" r="5.3"/><circle cx="861.99" cy="329.32" r="5.3"/><circle cx="861.99" cy="342.7" r="5.3"/><circle cx="861.99" cy="364.12" r="5.3"/><circle cx="818.25" cy="312.92" r="5.3"/><circle cx="818.25" cy="322.84" r="5.3"/><circle cx="818.25" cy="334.34" r="5.3"/><circle cx="818.25" cy="340.61" r="5.3"/><circle cx="825.54" cy="310.83" r="5.3"/><circle cx="825.54" cy="319.5" r="5.3"/><circle cx="825.54" cy="326.5" r="5.3"/><circle cx="825.54" cy="334.34" r="5.3"/><circle cx="825.54" cy="346.04" r="5.3"/><circle cx="825.54" cy="363.59" r="5.3"/><circle cx="847.41" cy="310.83" r="5.3"/><circle cx="847.41" cy="319.5" r="5.3"/><circle cx="847.41" cy="326.5" r="5.3"/><circle cx="847.41" cy="334.34" r="5.3"/><circle cx="847.41" cy="346.04" r="5.3"/><circle cx="847.41" cy="363.59" r="5.3"/><circle cx="832.83" cy="289.93" r="5.3"/><circle cx="832.83" cy="333.81" r="5.3"/><circle cx="832.83" cy="363.59" r="5.3"/><circle cx="840.12" cy="289.93" r="5.3"/><circle cx="840.12" cy="333.81" r="5.3"/><circle cx="840.12" cy="363.59" r="5.3"/><circle cx="723.48" cy="381.79" r="5.3"/><circle cx="723.48" cy="401.97" r="5.3"/><circle cx="723.48" cy="475.77" r="5.3"/><circle cx="730.77" cy="381.79" r="5.3"/><circle cx="730.77" cy="401.97" r="5.3"/><circle cx="730.77" cy="475.77" r="5.3"/><circle cx="759.93" cy="382.22" r="5.3"/><circle cx="759.93" cy="401.97" r="5.3"/><circle cx="759.93" cy="474.47" r="5.3"/><circle cx="913.02" cy="382.22" r="5.3"/><circle cx="913.02" cy="401.97" r="5.3"/><circle cx="913.02" cy="474.47" r="5.3"/><circle cx="767.22" cy="380.7" r="5.3"/><circle cx="767.22" cy="401.97" r="5.3"/><circle cx="767.22" cy="473.6" r="5.3"/><circle cx="905.73" cy="380.7" r="5.3"/><circle cx="905.73" cy="401.97" r="5.3"/><circle cx="905.73" cy="473.6" r="5.3"/><circle cx="796.38" cy="383.09" r="5.3"/><circle cx="796.38" cy="401.97" r="5.3"/><circle cx="796.38" cy="476.86" r="5.3"/><circle cx="876.57" cy="383.09" r="5.3"/><circle cx="876.57" cy="401.97" r="5.3"/><circle cx="876.57" cy="476.86" r="5.3"/><circle cx="803.67" cy="381.79" r="5.3"/><circle cx="803.67" cy="401.97" r="5.3"/><circle cx="803.67" cy="475.77" r="5.3"/><circle cx="869.28" cy="381.79" r="5.3"/><circle cx="869.28" cy="401.97" r="5.3"/><circle cx="869.28" cy="475.77" r="5.3"/><circle cx="832.83" cy="381.57" r="5.3"/><circle cx="832.83" cy="401.97" r="5.3"/><circle cx="832.83" cy="474.47" r="5.3"/><circle cx="840.12" cy="381.57" r="5.3"/><circle cx="840.12" cy="401.97" r="5.3"/><circle cx="840.12" cy="474.47" r="5.3"/><circle cx="708.9" cy="439.31" r="5.3"/><circle cx="781.8" cy="443.21" r="5.3"/><circle cx="854.7" cy="443.21" r="5.3"/><circle cx="716.19" cy="586.3" r="5.3"/><circle cx="738.06" cy="586.3" r="5.3"/><circle cx="789.09" cy="586.3" r="5.3"/><circle cx="810.96" cy="586.3" r="5.3"/><circle cx="861.99" cy="586.3" r="5.3"/><circle cx="883.86" cy="586.3" r="5.3"/><circle cx="708.9" cy="575.2" r="5.3"/><circle cx="745.35" cy="575.2" r="5.3"/><circle cx="781.8" cy="575.2" r="5.3"/><circle cx="818.25" cy="575.2" r="5.3"/><circle cx="854.7" cy="575.2" r="5.3"/><circle cx="891.15" cy="575.2" r="5.3"/></g>
<g clip-path="url(#ack)" fill="#000"><circle cx="1006.2" cy="297.24" r="5.3"/><circle cx="1006.2" cy="308.21" r="5.3"/><circle cx="1006.2" cy="342.7" r="5.3"/><circle cx="1006.2" cy="373.52" r="5.3"/><circle cx="1012.25" cy="295.36" r="5.3"/><circle cx="1012.25" cy="312.39" r="5.3"/><circle cx="1012.25" cy="346.14" r="5.3"/><circle cx="1018.3" cy="312.39" r="5.3"/><circle cx="1018.3" cy="343.32" r="5.3"/><circle cx="1024.35" cy="302.26" r="5.3"/><circle cx="1024.35" cy="308.84" r="5.3"/><circle cx="1024.35" cy="315.84" r="5.3"/><circle cx="1024.35" cy="327.54" r="5.3"/><circle cx="1024.35" cy="429.2" r="5.3"/><circle cx="1024.35" cy="431.4" r="5.3"/><circle cx="1030.4" cy="312.39" r="5.3"/><circle cx="1030.4" cy="343.32" r="5.3"/><circle cx="1036.45" cy="295.36" r="5.3"/><circle cx="1036.45" cy="312.39" r="5.3"/><circle cx="1036.45" cy="346.14" r="5.3"/><circle cx="1042.5" cy="305.39" r="5.3"/><circle cx="1042.5" cy="291.49" r="5.3"/><circle cx="1048.55" cy="295.36" r="5.3"/><circle cx="1048.55" cy="312.39" r="5.3"/><circle cx="1048.55" cy="346.14" r="5.3"/><circle cx="1054.6" cy="312.39" r="5.3"/><circle cx="1054.6" cy="343.32" r="5.3"/><circle cx="1060.65" cy="301.94" r="5.3"/><circle cx="1060.65" cy="308.84" r="5.3"/><circle cx="1060.65" cy="315.84" r="5.3"/><circle cx="1060.65" cy="324.93" r="5.3"/><circle cx="1060.65" cy="429.2" r="5.3"/><circle cx="1060.65" cy="431.4" r="5.3"/><circle cx="1066.7" cy="312.39" r="5.3"/><circle cx="1066.7" cy="343.32" r="5.3"/><circle cx="1072.75" cy="295.36" r="5.3"/><circle cx="1072.75" cy="312.39" r="5.3"/><circle cx="1072.75" cy="346.14" r="5.3"/><circle cx="1078.8" cy="305.39" r="5.3"/><circle cx="1084.85" cy="295.36" r="5.3"/><circle cx="1084.85" cy="312.39" r="5.3"/><circle cx="1084.85" cy="346.14" r="5.3"/><circle cx="1090.9" cy="312.39" r="5.3"/><circle cx="1090.9" cy="343.32" r="5.3"/><circle cx="1096.95" cy="304.87" r="5.3"/><circle cx="1096.95" cy="308.84" r="5.3"/><circle cx="1096.95" cy="315.84" r="5.3"/><circle cx="1096.95" cy="323.89" r="5.3"/><circle cx="1096.95" cy="429.2" r="5.3"/><circle cx="1096.95" cy="431.4" r="5.3"/><circle cx="1103" cy="312.39" r="5.3"/><circle cx="1103" cy="343.32" r="5.3"/><circle cx="1109.05" cy="295.36" r="5.3"/><circle cx="1109.05" cy="312.39" r="5.3"/><circle cx="1109.05" cy="346.14" r="5.3"/><circle cx="1115.1" cy="305.39" r="5.3"/><circle cx="1121.15" cy="295.36" r="5.3"/><circle cx="1121.15" cy="312.39" r="5.3"/><circle cx="1121.15" cy="346.14" r="5.3"/><circle cx="1127.2" cy="312.39" r="5.3"/><circle cx="1127.2" cy="343.32" r="5.3"/><circle cx="1133.25" cy="303.41" r="5.3"/><circle cx="1133.25" cy="308.84" r="5.3"/><circle cx="1133.25" cy="315.84" r="5.3"/><circle cx="1133.25" cy="327.23" r="5.3"/><circle cx="1133.25" cy="429.2" r="5.3"/><circle cx="1133.25" cy="431.4" r="5.3"/><circle cx="1139.3" cy="312.39" r="5.3"/><circle cx="1139.3" cy="343.32" r="5.3"/><circle cx="1145.35" cy="295.36" r="5.3"/><circle cx="1145.35" cy="312.39" r="5.3"/><circle cx="1145.35" cy="346.14" r="5.3"/><circle cx="1151.4" cy="305.39" r="5.3"/><circle cx="1157.45" cy="295.36" r="5.3"/><circle cx="1157.45" cy="312.39" r="5.3"/><circle cx="1157.45" cy="346.14" r="5.3"/><circle cx="1163.5" cy="312.39" r="5.3"/><circle cx="1163.5" cy="343.32" r="5.3"/><circle cx="1169.55" cy="303.51" r="5.3"/><circle cx="1169.55" cy="308.84" r="5.3"/><circle cx="1169.55" cy="315.84" r="5.3"/><circle cx="1169.55" cy="324.41" r="5.3"/><circle cx="1169.55" cy="429.2" r="5.3"/><circle cx="1169.55" cy="431.4" r="5.3"/><circle cx="1175.6" cy="312.39" r="5.3"/><circle cx="1175.6" cy="343.32" r="5.3"/><circle cx="1181.65" cy="295.36" r="5.3"/><circle cx="1181.65" cy="312.39" r="5.3"/><circle cx="1181.65" cy="346.14" r="5.3"/><circle cx="1187.7" cy="305.39" r="5.3"/><circle cx="1187.7" cy="291.49" r="5.3"/><circle cx="1193.75" cy="295.36" r="5.3"/><circle cx="1193.75" cy="312.39" r="5.3"/><circle cx="1193.75" cy="346.14" r="5.3"/><circle cx="1199.8" cy="312.39" r="5.3"/><circle cx="1199.8" cy="343.32" r="5.3"/><circle cx="1205.85" cy="302.26" r="5.3"/><circle cx="1205.85" cy="308.84" r="5.3"/><circle cx="1205.85" cy="315.84" r="5.3"/><circle cx="1205.85" cy="323.36" r="5.3"/><circle cx="1205.85" cy="429.2" r="5.3"/><circle cx="1205.85" cy="431.4" r="5.3"/><circle cx="1211.9" cy="312.39" r="5.3"/><circle cx="1211.9" cy="343.32" r="5.3"/><circle cx="1217.95" cy="295.36" r="5.3"/><circle cx="1217.95" cy="312.39" r="5.3"/><circle cx="1217.95" cy="346.14" r="5.3"/><circle cx="1006.2" cy="594.4" r="5.3"/><circle cx="1078.8" cy="594.4" r="5.3"/><circle cx="1151.4" cy="594.4" r="5.3"/></g>
<g clip-path="url(#acc)" fill="#000"><circle cx="110.1" cy="1015.51" r="5.4"/><circle cx="122.2" cy="1007.91" r="5.4"/><circle cx="134.3" cy="1006.82" r="5.4"/><circle cx="146.4" cy="1014.42" r="5.4"/><circle cx="158.5" cy="1009" r="5.4"/><circle cx="170.6" cy="1009.65" r="5.4"/><circle cx="182.7" cy="1012.25" r="5.4"/><circle cx="194.8" cy="1007.91" r="5.4"/><circle cx="206.9" cy="1010.08" r="5.4"/><circle cx="231.1" cy="1009" r="5.4"/><circle cx="243.2" cy="1009.65" r="5.4"/><circle cx="255.3" cy="1012.69" r="5.4"/><circle cx="267.4" cy="1012.25" r="5.4"/><circle cx="279.5" cy="1008.34" r="5.4"/><circle cx="291.6" cy="1014.86" r="5.4"/><circle cx="303.7" cy="1009" r="5.4"/><circle cx="315.8" cy="1009.65" r="5.4"/></g>
<path d="M110.1 1015.51 L122.2 1007.91 L134.3 1006.82 L146.4 1014.42 L158.5 1009 L170.6 1009.65 L182.7 1012.25 L194.8 1007.91 L206.9 1010.08 L219 851.8 L231.1 1009 L243.2 1009.65 L255.3 1012.69 L267.4 1012.25 L279.5 1008.34 L291.6 1014.86 L303.7 1009 L315.8 1009.65" clip-path="url(#acc)" fill="none" stroke="#0000ff" stroke-width="2.1" stroke-dasharray="7.7 3.33" stroke-linecap="butt" stroke-linejoin="round"/>
<g clip-path="url(#acc)" fill="#008000"><circle cx="219" cy="851.8" r="6.1"/></g>
<g clip-path="url(#acf)" fill="#000"><circle cx="411.7" cy="1013.25" r="5.4"/><circle cx="420.66" cy="999.32" r="5.4"/><circle cx="429.62" cy="1003.41" r="5.4"/><circle cx="438.58" cy="999.32" r="5.4"/><circle cx="447.54" cy="1009.65" r="5.4"/><circle cx="456.5" cy="1000.52" r="5.4"/><circle cx="465.46" cy="1003.65" r="5.4"/><circle cx="474.42" cy="996.44" r="5.4"/><circle cx="492.34" cy="998.12" r="5.4"/><circle cx="501.3" cy="1004.13" r="5.4"/><circle cx="510.26" cy="994.52" r="5.4"/><circle cx="519.22" cy="1003.41" r="5.4"/><circle cx="528.18" cy="995.72" r="5.4"/><circle cx="537.14" cy="1003.65" r="5.4"/><circle cx="546.1" cy="995.72" r="5.4"/><circle cx="564.02" cy="994.04" r="5.4"/><circle cx="572.98" cy="1004.13" r="5.4"/><circle cx="581.94" cy="998.12" r="5.4"/><circle cx="590.9" cy="1009.65" r="5.4"/><circle cx="599.86" cy="996.44" r="5.4"/><circle cx="608.82" cy="1003.65" r="5.4"/><circle cx="617.78" cy="1000.52" r="5.4"/></g>
<path d="M411.7 1013.25 L420.66 999.32 L429.62 1003.41 L438.58 999.32 L447.54 1009.65 L456.5 1000.52 L465.46 1003.65 L474.42 996.44 L483.38 885.22 L492.34 998.12 L501.3 1004.13 L510.26 994.52 L519.22 1003.41 L528.18 995.72 L537.14 1003.65 L546.1 995.72 L555.06 885.22 L564.02 994.04 L572.98 1004.13 L581.94 998.12 L590.9 1009.65 L599.86 996.44 L608.82 1003.65 L617.78 1000.52" clip-path="url(#acf)" fill="none" stroke="#0000ff" stroke-width="2.1" stroke-dasharray="7.7 3.33" stroke-linecap="butt" stroke-linejoin="round"/>
<g clip-path="url(#acf)" fill="#008000"><circle cx="483.38" cy="885.22" r="6.1"/><circle cx="555.06" cy="885.22" r="6.1"/></g>
<g clip-path="url(#aci)" fill="#000"><circle cx="713.6" cy="1013.25" r="5.4"/><circle cx="720.69" cy="986.11" r="5.4"/><circle cx="727.78" cy="1000.04" r="5.4"/><circle cx="734.87" cy="1000.04" r="5.4"/><circle cx="741.96" cy="985.39" r="5.4"/><circle cx="749.05" cy="1004.85" r="5.4"/><circle cx="756.14" cy="985.39" r="5.4"/><circle cx="763.23" cy="1000.04" r="5.4"/><circle cx="770.32" cy="1000.04" r="5.4"/><circle cx="777.41" cy="985.39" r="5.4"/><circle cx="791.59" cy="985.39" r="5.4"/><circle cx="798.68" cy="1000.04" r="5.4"/><circle cx="805.77" cy="1000.04" r="5.4"/><circle cx="812.86" cy="986.11" r="5.4"/><circle cx="827.04" cy="986.83" r="5.4"/><circle cx="834.13" cy="1000.04" r="5.4"/><circle cx="841.22" cy="1000.04" r="5.4"/><circle cx="848.31" cy="986.83" r="5.4"/><circle cx="862.49" cy="986.11" r="5.4"/><circle cx="869.58" cy="1000.04" r="5.4"/><circle cx="876.67" cy="1000.04" r="5.4"/><circle cx="883.76" cy="984.91" r="5.4"/><circle cx="890.85" cy="1004.85" r="5.4"/><circle cx="897.94" cy="984.91" r="5.4"/><circle cx="905.03" cy="1000.04" r="5.4"/><circle cx="912.12" cy="1000.04" r="5.4"/><circle cx="919.21" cy="986.11" r="5.4"/></g>
<path d="M713.6 1013.25 L720.69 986.11 L727.78 1000.04 L734.87 1000.04 L741.96 985.39 L749.05 1004.85 L756.14 985.39 L763.23 1000.04 L770.32 1000.04 L777.41 985.39 L784.5 973.62 L791.59 985.39 L798.68 1000.04 L805.77 1000.04 L812.86 986.11 L819.95 965.69 L827.04 986.83 L834.13 1000.04 L841.22 1000.04 L848.31 986.83 L855.4 973.62 L862.49 986.11 L869.58 1000.04 L876.67 1000.04 L883.76 984.91 L890.85 1004.85 L897.94 984.91 L905.03 1000.04 L912.12 1000.04 L919.21 986.11" clip-path="url(#aci)" fill="none" stroke="#0000ff" stroke-width="2.1" stroke-dasharray="7.7 3.33" stroke-linecap="butt" stroke-linejoin="round"/>
<g clip-path="url(#aci)" fill="#008000"><circle cx="784.5" cy="973.62" r="6.1"/><circle cx="819.95" cy="965.69" r="6.1"/><circle cx="855.4" cy="973.62" r="6.1"/></g>
<g clip-path="url(#acl)" fill="#000"><circle cx="1014.9" cy="1013.56" r="5.4"/><circle cx="1020.78" cy="994.34" r="5.4"/><circle cx="1026.67" cy="1000.61" r="5.4"/><circle cx="1032.55" cy="1006.88" r="5.4"/><circle cx="1038.43" cy="1000.19" r="5.4"/><circle cx="1044.32" cy="993.92" r="5.4"/><circle cx="1050.2" cy="1007.29" r="5.4"/><circle cx="1056.08" cy="993.92" r="5.4"/><circle cx="1061.96" cy="1000.61" r="5.4"/><circle cx="1067.85" cy="1006.88" r="5.4"/><circle cx="1073.73" cy="998.93" r="5.4"/><circle cx="1079.61" cy="990.16" r="5.4"/><circle cx="1091.38" cy="989.74" r="5.4"/><circle cx="1097.26" cy="1000.19" r="5.4"/><circle cx="1103.14" cy="1006.88" r="5.4"/><circle cx="1109.03" cy="999.14" r="5.4"/><circle cx="1114.91" cy="988.48" r="5.4"/><circle cx="1120.79" cy="1007.92" r="5.4"/><circle cx="1126.68" cy="988.48" r="5.4"/><circle cx="1132.56" cy="998.93" r="5.4"/><circle cx="1138.44" cy="1006.88" r="5.4"/><circle cx="1144.33" cy="999.56" r="5.4"/><circle cx="1150.21" cy="988.48" r="5.4"/><circle cx="1161.97" cy="988.48" r="5.4"/><circle cx="1167.86" cy="999.14" r="5.4"/><circle cx="1173.74" cy="1006.88" r="5.4"/><circle cx="1179.62" cy="999.56" r="5.4"/><circle cx="1185.51" cy="990.78" r="5.4"/><circle cx="1191.39" cy="1007.29" r="5.4"/><circle cx="1197.27" cy="990.78" r="5.4"/><circle cx="1203.16" cy="999.56" r="5.4"/><circle cx="1209.04" cy="1006.88" r="5.4"/><circle cx="1214.92" cy="1000.61" r="5.4"/><circle cx="1220.81" cy="994.34" r="5.4"/></g>
<path d="M1014.9 1013.56 L1020.78 994.34 L1026.67 1000.61 L1032.55 1006.88 L1038.43 1000.19 L1044.32 993.92 L1050.2 1007.29 L1056.08 993.92 L1061.96 1000.61 L1067.85 1006.88 L1073.73 998.93 L1079.61 990.16 L1085.5 789.2 L1091.38 989.74 L1097.26 1000.19 L1103.14 1006.88 L1109.03 999.14 L1114.91 988.48 L1120.79 1007.92 L1126.68 988.48 L1132.56 998.93 L1138.44 1006.88 L1144.33 999.56 L1150.21 988.48 L1156.09 789.2 L1161.97 988.48 L1167.86 999.14 L1173.74 1006.88 L1179.62 999.56 L1185.51 990.78 L1191.39 1007.29 L1197.27 990.78 L1203.16 999.56 L1209.04 1006.88 L1214.92 1000.61 L1220.81 994.34" clip-path="url(#acl)" fill="none" stroke="#0000ff" stroke-width="2.1" stroke-dasharray="7.7 3.33" stroke-linecap="butt" stroke-linejoin="round"/>
<g clip-path="url(#acl)" fill="#008000"><circle cx="1085.5" cy="789.2" r="6.1"/><circle cx="1156.09" cy="789.2" r="6.1"/></g>
<rect x="99.1" y="288.4" width="232.7" height="322.4" fill="none" stroke="#000" stroke-width="3.4" stroke-linejoin="miter"/><path d="M109.5 610.8 V625.8M183.6 610.8 V625.8M257.7 610.8 V625.8M331.8 610.8 V625.8M99.1 288.5 H84.1M99.1 387.7 H84.1M99.1 486.9 H84.1M99.1 586.1 H84.1" stroke="#000" stroke-width="3.4" fill="none"/><g font-size="34" fill="#000"><text x="109.5" y="663.1" text-anchor="middle">0</text><text x="183.6" y="663.1" text-anchor="middle">6</text><text x="257.7" y="663.1" text-anchor="middle">12</text><text x="331.8" y="663.1" text-anchor="middle">18</text><text x="69.5" y="299.9" text-anchor="end">6</text><text x="69.5" y="399.1" text-anchor="end">4</text><text x="69.5" y="498.3" text-anchor="end">2</text><text x="69.5" y="597.5" text-anchor="end">0</text></g>
<rect x="392.4" y="288.4" width="232.4" height="322.4" fill="none" stroke="#000" stroke-width="3.4" stroke-linejoin="miter"/><path d="M402.8 610.8 V625.8M476.4 610.8 V625.8M549.9 610.8 V625.8M623.5 610.8 V625.8M392.4 295 H377.4M392.4 394.8 H377.4M392.4 494.6 H377.4M392.4 594.4 H377.4" stroke="#000" stroke-width="3.4" fill="none"/><g font-size="34" fill="#000"><text x="402.8" y="663.1" text-anchor="middle">0</text><text x="476.4" y="663.1" text-anchor="middle">8</text><text x="549.9" y="663.1" text-anchor="middle">16</text><text x="623.5" y="663.1" text-anchor="middle">24</text><text x="362.8" y="306.4" text-anchor="end">9</text><text x="362.8" y="406.2" text-anchor="end">6</text><text x="362.8" y="506" text-anchor="end">3</text><text x="362.8" y="605.8" text-anchor="end">0</text></g>
<rect x="698.4" y="288.4" width="232.4" height="322.4" fill="none" stroke="#000" stroke-width="3.4" stroke-linejoin="miter"/><path d="M708.8 610.8 V625.8M781.6 610.8 V625.8M854.4 610.8 V625.8M927.2 610.8 V625.8M698.4 288.5 H683.4M698.4 387.7 H683.4M698.4 486.9 H683.4M698.4 586.1 H683.4" stroke="#000" stroke-width="3.4" fill="none"/><g font-size="34" fill="#000"><text x="708.8" y="663.1" text-anchor="middle">0</text><text x="781.6" y="663.1" text-anchor="middle">10</text><text x="854.4" y="663.1" text-anchor="middle">20</text><text x="927.2" y="663.1" text-anchor="middle">30</text><text x="668.8" y="299.9" text-anchor="end">6</text><text x="668.8" y="399.1" text-anchor="end">4</text><text x="668.8" y="498.3" text-anchor="end">2</text><text x="668.8" y="597.5" text-anchor="end">0</text></g>
<rect x="995.7" y="288.4" width="232.7" height="322.4" fill="none" stroke="#000" stroke-width="3.4" stroke-linejoin="miter"/><path d="M1006.2 610.8 V625.8M1078.8 610.8 V625.8M1151.4 610.8 V625.8M1224 610.8 V625.8M995.7 295 H980.7M995.7 394.8 H980.7M995.7 494.6 H980.7M995.7 594.4 H980.7" stroke="#000" stroke-width="3.4" fill="none"/><g font-size="34" fill="#000"><text x="1006.2" y="663.1" text-anchor="middle">0</text><text x="1078.8" y="663.1" text-anchor="middle">12</text><text x="1151.4" y="663.1" text-anchor="middle">24</text><text x="1224" y="663.1" text-anchor="middle">36</text><text x="966.1" y="306.4" text-anchor="end">9</text><text x="966.1" y="406.2" text-anchor="end">6</text><text x="966.1" y="506" text-anchor="end">3</text><text x="966.1" y="605.8" text-anchor="end">0</text></g>
<rect x="100" y="748.9" width="226.5" height="275.4" fill="none" stroke="#000" stroke-width="3.4" stroke-linejoin="miter"/><path d="M110.1 1024.3 V1039.3M182.7 1024.3 V1039.3M255.3 1024.3 V1039.3M100 765.8 H85M100 849 H85M100 932.3 H85M100 1015.5 H85" stroke="#000" stroke-width="3.4" fill="none"/><g font-size="34" fill="#000"><text x="110.1" y="1076.8" text-anchor="middle">0</text><text x="182.7" y="1076.8" text-anchor="middle">6</text><text x="255.3" y="1076.8" text-anchor="middle">12</text><text x="70.4" y="777.2" text-anchor="end">1.5</text><text x="70.4" y="860.4" text-anchor="end">1.0</text><text x="70.4" y="943.7" text-anchor="end">0.5</text><text x="70.4" y="1026.9" text-anchor="end">0.0</text></g>
<rect x="401.6" y="748.9" width="226.2" height="275.4" fill="none" stroke="#000" stroke-width="3.4" stroke-linejoin="miter"/><path d="M411.7 1024.3 V1039.3M483.3 1024.3 V1039.3M555 1024.3 V1039.3M626.7 1024.3 V1039.3M401.6 748.9 H386.6M401.6 837 H386.6M401.6 925.2 H386.6M401.6 1013.4 H386.6" stroke="#000" stroke-width="3.4" fill="none"/><g font-size="34" fill="#000"><text x="411.7" y="1076.8" text-anchor="middle">0</text><text x="483.3" y="1076.8" text-anchor="middle">8</text><text x="555" y="1076.8" text-anchor="middle">16</text><text x="626.7" y="1076.8" text-anchor="middle">24</text><text x="372" y="760.3" text-anchor="end">1.2</text><text x="372" y="848.4" text-anchor="end">0.8</text><text x="372" y="936.6" text-anchor="end">0.4</text><text x="372" y="1024.8" text-anchor="end">0.0</text></g>
<rect x="703.5" y="748.9" width="226.3" height="275.4" fill="none" stroke="#000" stroke-width="3.4" stroke-linejoin="miter"/><path d="M713.6 1024.3 V1039.3M784.4 1024.3 V1039.3M855.3 1024.3 V1039.3M926.1 1024.3 V1039.3M703.5 748.9 H688.5M703.5 837 H688.5M703.5 925.2 H688.5M703.5 1013.4 H688.5" stroke="#000" stroke-width="3.4" fill="none"/><g font-size="34" fill="#000"><text x="713.6" y="1076.8" text-anchor="middle">0</text><text x="784.4" y="1076.8" text-anchor="middle">10</text><text x="855.3" y="1076.8" text-anchor="middle">20</text><text x="926.1" y="1076.8" text-anchor="middle">30</text><text x="673.9" y="760.3" text-anchor="end">1.2</text><text x="673.9" y="848.4" text-anchor="end">0.8</text><text x="673.9" y="936.6" text-anchor="end">0.4</text><text x="673.9" y="1024.8" text-anchor="end">0.0</text></g>
<rect x="1005" y="748.9" width="226.7" height="275.4" fill="none" stroke="#000" stroke-width="3.4" stroke-linejoin="miter"/><path d="M1014.9 1024.3 V1039.3M1085.5 1024.3 V1039.3M1156.1 1024.3 V1039.3M1226.7 1024.3 V1039.3M1005 748.9 H990M1005 837 H990M1005 925.2 H990M1005 1013.4 H990" stroke="#000" stroke-width="3.4" fill="none"/><g font-size="34" fill="#000"><text x="1014.9" y="1076.8" text-anchor="middle">0</text><text x="1085.5" y="1076.8" text-anchor="middle">12</text><text x="1156.1" y="1076.8" text-anchor="middle">24</text><text x="1226.7" y="1076.8" text-anchor="middle">36</text><text x="975.4" y="760.3" text-anchor="end">1.2</text><text x="975.4" y="848.4" text-anchor="end">0.8</text><text x="975.4" y="936.6" text-anchor="end">0.4</text><text x="975.4" y="1024.8" text-anchor="end">0.0</text></g>
<g fill="#231815"><text transform="translate(9.7 35.3) scale(1.06 1)" font-size="39.8">(a)</text><text transform="translate(319.6 35.3) scale(1.06 1)" font-size="39.8">(d)</text><text transform="translate(628 35.3) scale(1.06 1)" font-size="39.8">(g)</text><text transform="translate(929 35.3) scale(1.06 1)" font-size="39.8">(j)</text><text transform="translate(10.9 259.4) scale(1.06 1)" font-size="39.8">(b)</text><text transform="translate(321.7 259.4) scale(1.06 1)" font-size="39.8">(e)</text><text transform="translate(628.9 259.4) scale(1.06 1)" font-size="39.8">(h)</text><text transform="translate(929.8 259.4) scale(1.06 1)" font-size="39.8">(k)</text><text transform="translate(12.5 726.6) scale(1.06 1)" font-size="39.8">(c)</text><text transform="translate(323.8 726.6) scale(1.06 1)" font-size="39.8">(f)</text><text transform="translate(631 726.6) scale(1.06 1)" font-size="39.8">(i)</text><text transform="translate(931.8 726.6) scale(1.06 1)" font-size="39.8">(l)</text></g>
<g fill="#231815"><text transform="translate(173.1 697.5) scale(1.15 1)" font-size="31.3" font-style="italic">k</text><text x="188" y="708.7" font-size="17">1</text><text x="196.3" y="699.5" font-size="36">+</text><text transform="translate(216.3 697.5) scale(1.15 1)" font-size="31.3" font-style="italic">k</text><text transform="translate(230.3 708.7) scale(1.1 1)" font-size="17">2</text><text transform="translate(241 697.5) scale(1.15 1)" font-size="31.3" font-style="italic">N</text><text x="263.1" y="708.7" font-size="17">1</text></g>
<g fill="#231815"><text transform="translate(461.9 697.5) scale(1.15 1)" font-size="31.3" font-style="italic">k</text><text x="476.8" y="708.7" font-size="17">1</text><text x="485.1" y="699.5" font-size="36">+</text><text transform="translate(505.1 697.5) scale(1.15 1)" font-size="31.3" font-style="italic">k</text><text transform="translate(519.1 708.7) scale(1.1 1)" font-size="17">2</text><text transform="translate(529.8 697.5) scale(1.15 1)" font-size="31.3" font-style="italic">N</text><text x="551.9" y="708.7" font-size="17">1</text></g>
<g fill="#231815"><text transform="translate(778.7 697.5) scale(1.15 1)" font-size="31.3" font-style="italic">k</text><text x="793.6" y="708.7" font-size="17">1</text><text x="801.9" y="699.5" font-size="36">+</text><text transform="translate(821.9 697.5) scale(1.15 1)" font-size="31.3" font-style="italic">k</text><text transform="translate(835.9 708.7) scale(1.1 1)" font-size="17">2</text><text transform="translate(846.6 697.5) scale(1.15 1)" font-size="31.3" font-style="italic">N</text><text x="868.7" y="708.7" font-size="17">1</text></g>
<g fill="#231815"><text transform="translate(1074 697.5) scale(1.15 1)" font-size="31.3" font-style="italic">k</text><text x="1088.9" y="708.7" font-size="17">1</text><text x="1097.2" y="699.5" font-size="36">+</text><text transform="translate(1117.2 697.5) scale(1.15 1)" font-size="31.3" font-style="italic">k</text><text transform="translate(1131.2 708.7) scale(1.1 1)" font-size="17">2</text><text transform="translate(1141.9 697.5) scale(1.15 1)" font-size="31.3" font-style="italic">N</text><text x="1164" y="708.7" font-size="17">1</text></g>
<g fill="#231815"><text transform="translate(172.5 1109.5) scale(1.15 1)" font-size="31.3" font-style="italic">k</text><text x="187.4" y="1120.7" font-size="17">1</text><text x="195.7" y="1111.5" font-size="36">+</text><text transform="translate(215.7 1109.5) scale(1.15 1)" font-size="31.3" font-style="italic">k</text><text transform="translate(229.7 1120.7) scale(1.1 1)" font-size="17">2</text><text transform="translate(240.4 1109.5) scale(1.15 1)" font-size="31.3" font-style="italic">N</text><text x="262.5" y="1120.7" font-size="17">1</text></g>
<g fill="#231815"><text transform="translate(469.7 1109.5) scale(1.15 1)" font-size="31.3" font-style="italic">k</text><text x="484.6" y="1120.7" font-size="17">1</text><text x="492.9" y="1111.5" font-size="36">+</text><text transform="translate(512.9 1109.5) scale(1.15 1)" font-size="31.3" font-style="italic">k</text><text transform="translate(526.9 1120.7) scale(1.1 1)" font-size="17">2</text><text transform="translate(537.6 1109.5) scale(1.15 1)" font-size="31.3" font-style="italic">N</text><text x="559.7" y="1120.7" font-size="17">1</text></g>
<g fill="#231815"><text transform="translate(779.2 1109.5) scale(1.15 1)" font-size="31.3" font-style="italic">k</text><text x="794.1" y="1120.7" font-size="17">1</text><text x="802.4" y="1111.5" font-size="36">+</text><text transform="translate(822.4 1109.5) scale(1.15 1)" font-size="31.3" font-style="italic">k</text><text transform="translate(836.4 1120.7) scale(1.1 1)" font-size="17">2</text><text transform="translate(847.1 1109.5) scale(1.15 1)" font-size="31.3" font-style="italic">N</text><text x="869.2" y="1120.7" font-size="17">1</text></g>
<g fill="#231815"><text transform="translate(1073.8 1109.5) scale(1.15 1)" font-size="31.3" font-style="italic">k</text><text x="1088.7" y="1120.7" font-size="17">1</text><text x="1097" y="1111.5" font-size="36">+</text><text transform="translate(1117 1109.5) scale(1.15 1)" font-size="31.3" font-style="italic">k</text><text transform="translate(1131 1120.7) scale(1.1 1)" font-size="17">2</text><text transform="translate(1141.7 1109.5) scale(1.15 1)" font-size="31.3" font-style="italic">N</text><text x="1163.8" y="1120.7" font-size="17">1</text></g>
<text transform="translate(37.1 433.8) rotate(-90)" text-anchor="middle" font-size="34.3" font-style="italic" fill="#231815">E/U</text>
<g transform="translate(28.8 904.6) rotate(-90)" font-style="italic" fill="#231815"><text transform="scale(1.12 1)" font-size="33.3">S</text><text x="17.3" y="10.9" font-size="19.5">q</text></g>
<path d="M93.4 263.5 L105.6 275.7 M93.4 275.7 L105.6 263.5" stroke="#231815" stroke-width="1.7" fill="none"/><text x="111" y="279.8" font-size="33.3" fill="#231815">10</text><text x="143.8" y="269.0" font-size="17.5" fill="#231815">-2</text>
<path d="M388.6 263.5 L400.8 275.7 M388.6 275.7 L400.8 263.5" stroke="#231815" stroke-width="1.7" fill="none"/><text x="405.7" y="279.8" font-size="33.3" fill="#231815">10</text><text x="438.6" y="269.0" font-size="17.5" fill="#231815">-2</text>
<path d="M691.3 263.5 L703.5 275.7 M691.3 275.7 L703.5 263.5" stroke="#231815" stroke-width="1.7" fill="none"/><text x="708.9" y="279.8" font-size="33.3" fill="#231815">10</text><text x="741.4" y="269.0" font-size="17.5" fill="#231815">-2</text>
<path d="M987.6 263.5 L999.8 275.7 M987.6 275.7 L999.8 263.5" stroke="#231815" stroke-width="1.7" fill="none"/><text x="1005.2" y="279.8" font-size="33.3" fill="#231815">10</text><text x="1037.7" y="269.0" font-size="17.5" fill="#231815">-2</text>
</svg>
</body></html>
